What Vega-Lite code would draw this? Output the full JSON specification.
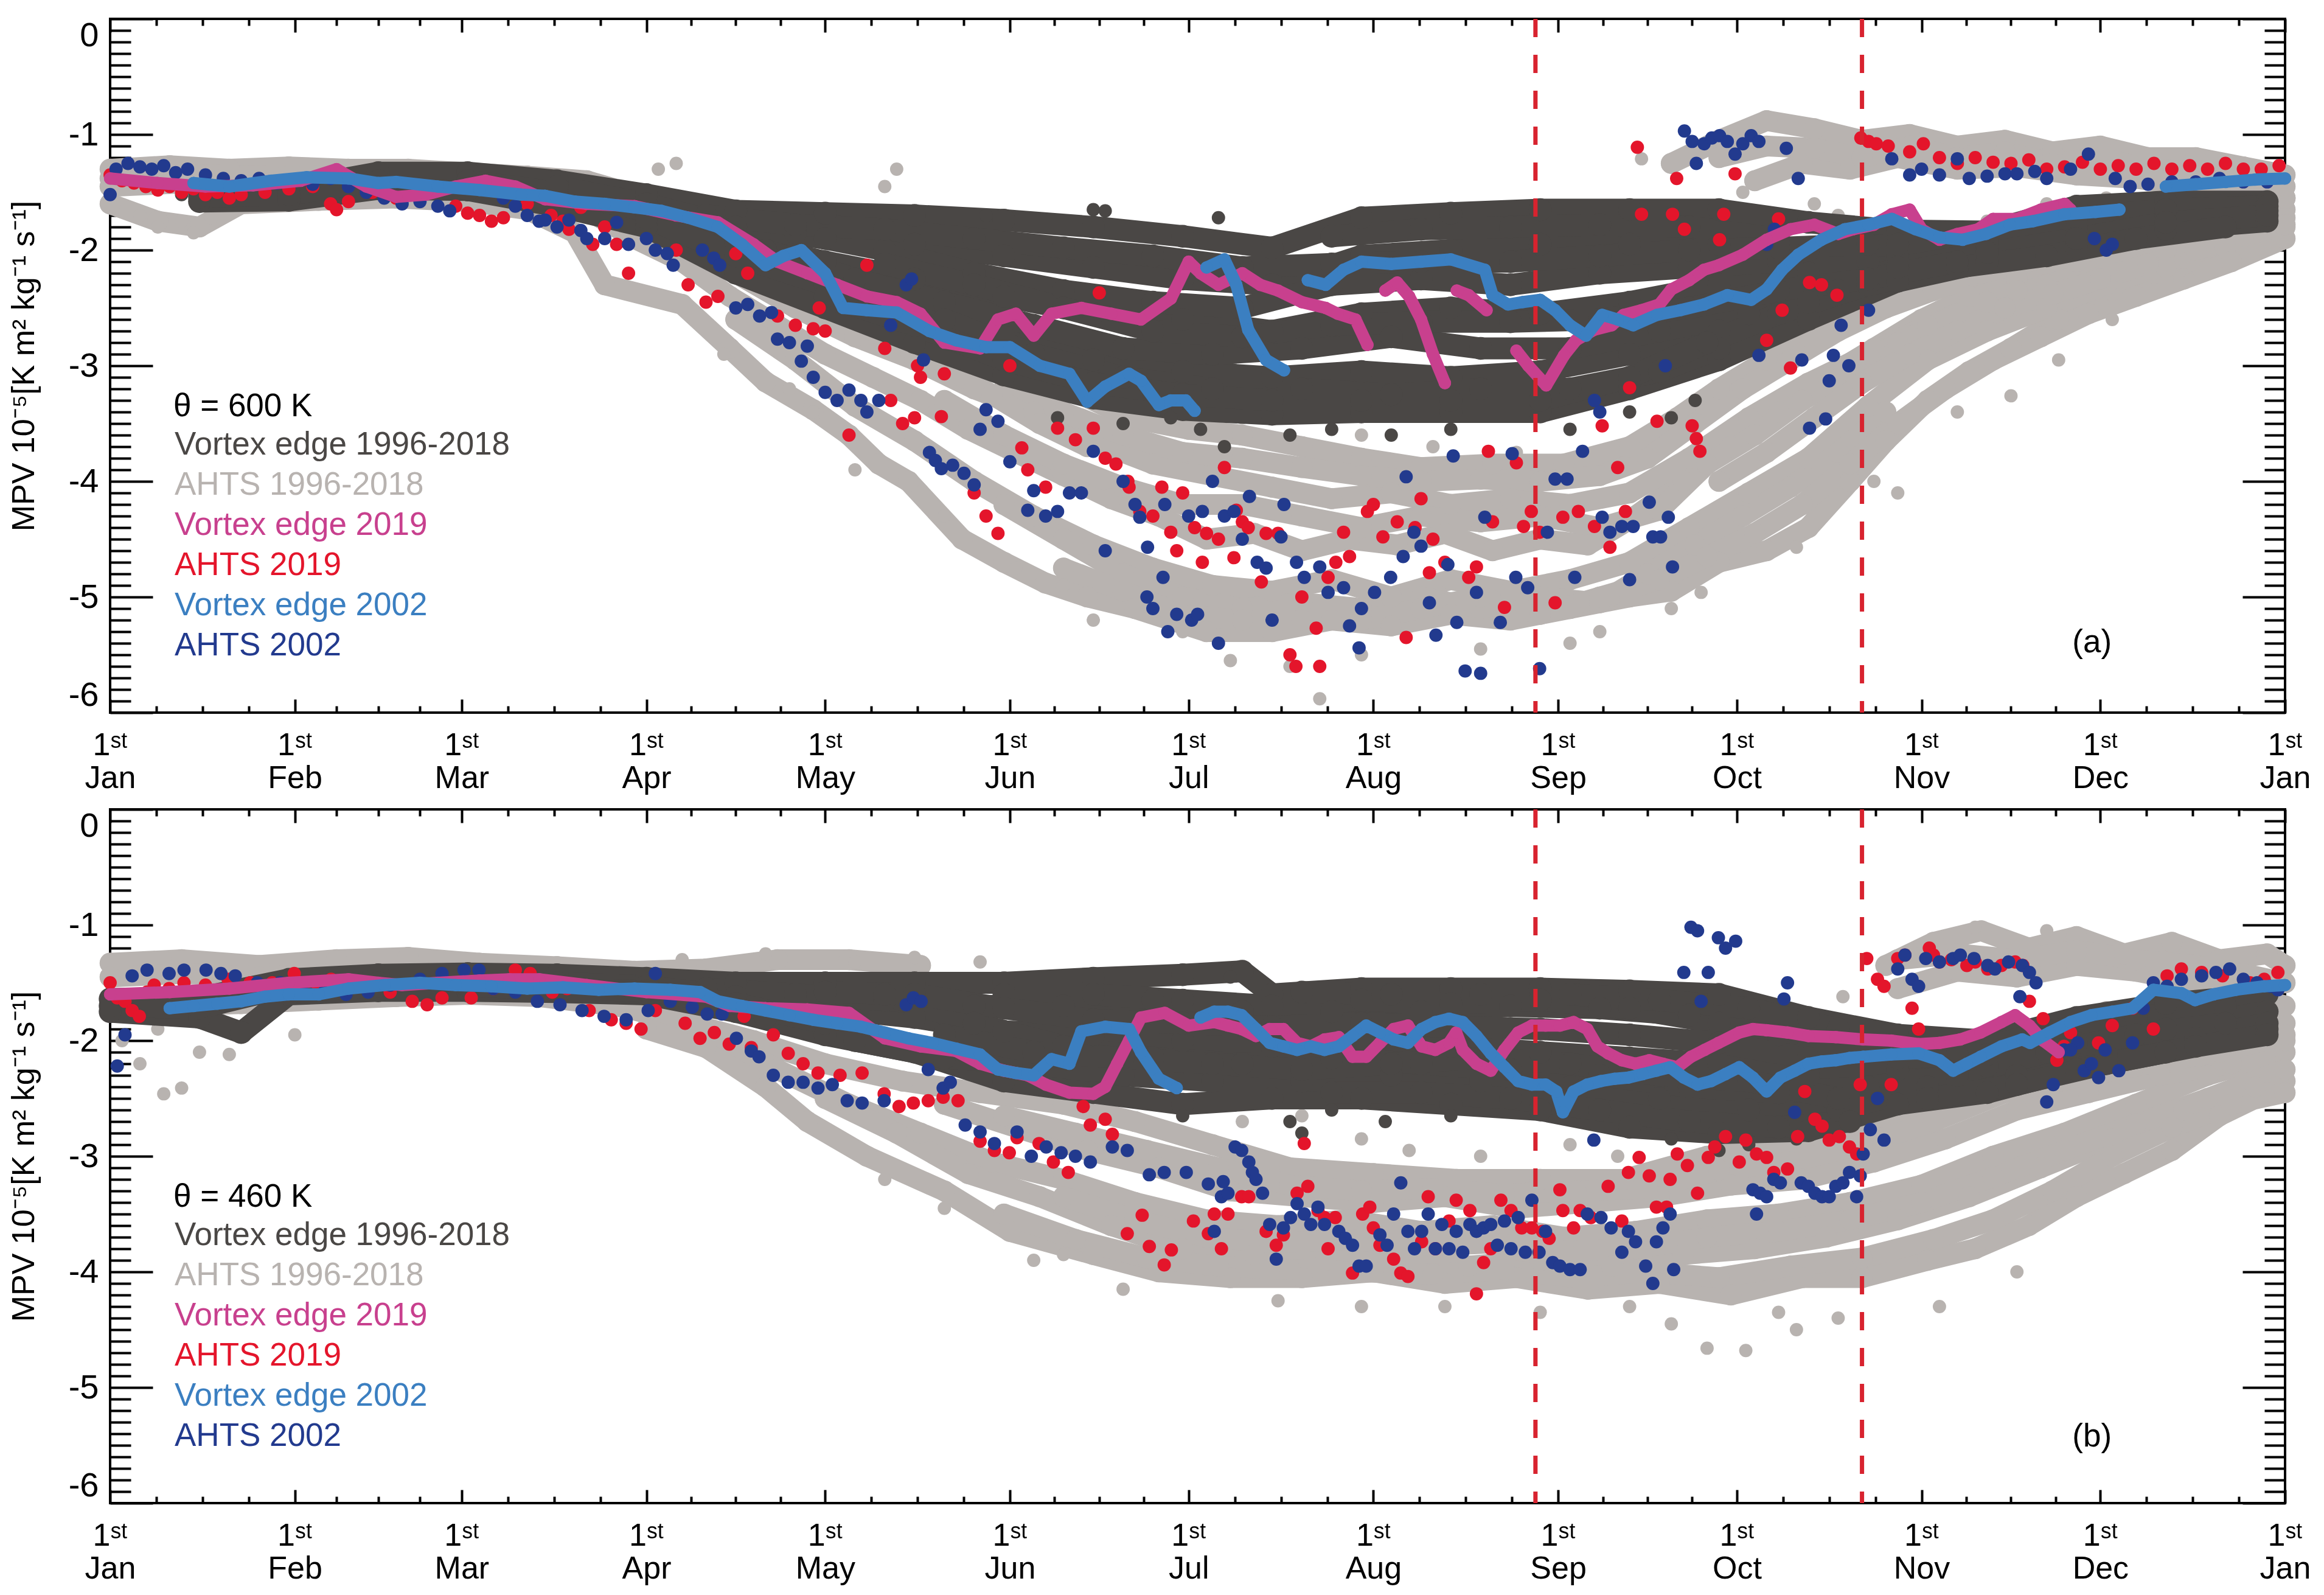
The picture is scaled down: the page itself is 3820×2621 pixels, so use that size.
{
"$schema": "https://vega.github.io/schema/vega-lite/v6.json",
"background": "white",
"padding": {"left": 11, "top": 19, "right": 20, "bottom": 5},
"config": {"view": {"stroke": "#000", "strokeWidth": 4}, "font": "Liberation Sans"},
"spacing": 159,
"bounds": "flush",
"resolve": {"scale": {"color": "independent"}},
"datasets": {
"rules": [{"d":239.2},{"d":294}],
"a_lg": [
{"t":1,"d":0,"v":-1.3},{"t":1,"d":10,"v":-1.27},{"t":1,"d":20,"v":-1.3},{"t":1,"d":30,"v":-1.28},{"t":1,"d":40,"v":-1.3},{"t":1,"d":50,"v":-1.3},{"t":1,"d":60,"v":-1.33},{"t":1,"d":70,"v":-1.36},{"t":1,"d":80,"v":-1.4},{"t":1,"d":90,"v":-1.55},{"t":1,"d":100,"v":-1.8},{"t":1,"d":112,"v":-2.2},{"t":1,"d":122,"v":-2.45},{"t":1,"d":132,"v":-2.6},{"t":1,"d":142,"v":-2.8},{"t":1,"d":151,"v":-2.97},{"t":1,"d":161,"v":-3.2},{"t":1,"d":171,"v":-3.45},{"t":1,"d":181,"v":-3.55},{"t":1,"d":190,"v":-3.6},{"t":1,"d":200,"v":-3.7},{"t":1,"d":210,"v":-3.8},{"t":1,"d":220,"v":-3.88},{"t":1,"d":232,"v":-3.85},{"t":1,"d":244,"v":-3.85},{"t":1,"d":255,"v":-3.7},{"t":1,"d":263,"v":-3.45},{"t":1,"d":270,"v":-3.2},{"t":1,"d":278,"v":-2.95},{"t":1,"d":285,"v":-2.75},{"t":1,"d":292,"v":-2.5},{"t":1,"d":298,"v":-2.3},{"t":1,"d":305,"v":-2.2},{"t":1,"d":312,"v":-2.08},{"t":1,"d":320,"v":-1.95},{"t":1,"d":330,"v":-1.85},{"t":1,"d":340,"v":-1.78},{"t":1,"d":350,"v":-1.7},{"t":1,"d":358,"v":-1.6},{"t":1,"d":365,"v":-1.55},
{"t":2,"d":0,"v":-1.6},{"t":2,"d":8,"v":-1.75},{"t":2,"d":15,"v":-1.8},{"t":2,"d":22,"v":-1.6},{"t":2,"d":35,"v":-1.57},{"t":2,"d":48,"v":-1.55},{"t":2,"d":60,"v":-1.58},{"t":2,"d":70,"v":-1.65},{"t":2,"d":78,"v":-1.85},{"t":2,"d":83,"v":-2.3},{"t":2,"d":96,"v":-2.47},{"t":2,"d":104,"v":-2.85},{"t":2,"d":110,"v":-3.14},{"t":2,"d":118,"v":-3.38},{"t":2,"d":124,"v":-3.6},{"t":2,"d":129,"v":-3.85},{"t":2,"d":134,"v":-4.0},{"t":2,"d":143,"v":-4.5},{"t":2,"d":150,"v":-4.7},{"t":2,"d":157,"v":-4.88},{"t":2,"d":164,"v":-5.0},{"t":2,"d":172,"v":-5.1},{"t":2,"d":184,"v":-5.3},{"t":2,"d":195,"v":-5.3},{"t":2,"d":205,"v":-5.2},{"t":2,"d":215,"v":-5.25},{"t":2,"d":225,"v":-5.15},{"t":2,"d":235,"v":-5.2},{"t":2,"d":245,"v":-5.1},{"t":2,"d":255,"v":-5.0},{"t":2,"d":262,"v":-4.95},{"t":2,"d":270,"v":-4.7},{"t":2,"d":278,"v":-4.6},{"t":2,"d":285,"v":-4.4},{"t":2,"d":292,"v":-4.0},{"t":2,"d":298,"v":-3.65},{"t":2,"d":305,"v":-3.3},{"t":2,"d":312,"v":-3.05},{"t":2,"d":319,"v":-2.85},{"t":2,"d":327,"v":-2.6},{"t":2,"d":336,"v":-2.35},{"t":2,"d":343,"v":-2.2},{"t":2,"d":349,"v":-2.1},{"t":2,"d":357,"v":-1.95},{"t":2,"d":365,"v":-1.8},
{"t":3,"d":0,"v":-1.45},{"t":3,"d":12,"v":-1.42},{"t":3,"d":25,"v":-1.45},{"t":3,"d":38,"v":-1.42},{"t":3,"d":50,"v":-1.43},{"t":3,"d":62,"v":-1.45},{"t":3,"d":72,"v":-1.5},{"t":3,"d":80,"v":-1.65},{"t":3,"d":88,"v":-1.9},{"t":3,"d":96,"v":-2.1},{"t":3,"d":104,"v":-2.4},{"t":3,"d":112,"v":-2.65},{"t":3,"d":120,"v":-2.9},{"t":3,"d":128,"v":-3.1},{"t":3,"d":136,"v":-3.3},{"t":3,"d":144,"v":-3.55},{"t":3,"d":152,"v":-3.75},{"t":3,"d":160,"v":-3.95},{"t":3,"d":168,"v":-4.15},{"t":3,"d":176,"v":-4.3},{"t":3,"d":184,"v":-4.5},{"t":3,"d":192,"v":-4.45},{"t":3,"d":200,"v":-4.6},{"t":3,"d":208,"v":-4.5},{"t":3,"d":216,"v":-4.55},{"t":3,"d":224,"v":-4.45},{"t":3,"d":232,"v":-4.6},{"t":3,"d":240,"v":-4.5},{"t":3,"d":248,"v":-4.55},{"t":3,"d":256,"v":-4.3},{"t":3,"d":264,"v":-4.0},{"t":3,"d":272,"v":-3.7},{"t":3,"d":280,"v":-3.4},{"t":3,"d":288,"v":-3.1},{"t":3,"d":296,"v":-2.85},{"t":3,"d":304,"v":-2.6},{"t":3,"d":312,"v":-2.4},{"t":3,"d":320,"v":-2.25},{"t":3,"d":330,"v":-2.1},{"t":3,"d":340,"v":-1.95},{"t":3,"d":350,"v":-1.85},{"t":3,"d":360,"v":-1.7},{"t":3,"d":365,"v":-1.65},
{"t":4,"d":95,"v":-1.95},{"t":4,"d":105,"v":-2.2},{"t":4,"d":115,"v":-2.5},{"t":4,"d":125,"v":-2.75},{"t":4,"d":135,"v":-2.95},{"t":4,"d":145,"v":-3.2},{"t":4,"d":155,"v":-3.4},{"t":4,"d":165,"v":-3.65},{"t":4,"d":175,"v":-3.85},{"t":4,"d":185,"v":-3.95},{"t":4,"d":195,"v":-4.05},{"t":4,"d":205,"v":-4.15},{"t":4,"d":215,"v":-4.1},{"t":4,"d":225,"v":-4.2},{"t":4,"d":235,"v":-4.15},{"t":4,"d":245,"v":-4.2},{"t":4,"d":255,"v":-4.1},{"t":4,"d":265,"v":-3.8},{"t":4,"d":275,"v":-3.45},{"t":4,"d":285,"v":-3.15},{"t":4,"d":295,"v":-2.9},{"t":4,"d":305,"v":-2.65},{"t":4,"d":315,"v":-2.45},{"t":4,"d":325,"v":-2.3},{"t":4,"d":335,"v":-2.15},{"t":4,"d":345,"v":-2.0},{"t":4,"d":355,"v":-1.88},{"t":4,"d":365,"v":-1.72},
{"t":5,"d":105,"v":-2.6},{"t":5,"d":115,"v":-2.95},{"t":5,"d":125,"v":-3.35},{"t":5,"d":135,"v":-3.65},{"t":5,"d":145,"v":-4.0},{"t":5,"d":155,"v":-4.3},{"t":5,"d":165,"v":-4.55},{"t":5,"d":175,"v":-4.75},{"t":5,"d":185,"v":-4.9},{"t":5,"d":195,"v":-4.95},{"t":5,"d":205,"v":-4.85},{"t":5,"d":215,"v":-5.0},{"t":5,"d":225,"v":-4.85},{"t":5,"d":235,"v":-4.95},{"t":5,"d":245,"v":-4.85},{"t":5,"d":255,"v":-4.7},{"t":5,"d":265,"v":-4.4},{"t":5,"d":275,"v":-4.1},{"t":5,"d":285,"v":-3.8},{"t":5,"d":295,"v":-3.35},{"t":5,"d":305,"v":-2.95},{"t":5,"d":315,"v":-2.7},{"t":5,"d":325,"v":-2.5},{"t":5,"d":335,"v":-2.3},{"t":5,"d":345,"v":-2.15},{"t":5,"d":355,"v":-1.98},
{"t":6,"d":140,"v":-3.3},{"t":6,"d":150,"v":-3.6},{"t":6,"d":160,"v":-3.85},{"t":6,"d":170,"v":-4.05},{"t":6,"d":180,"v":-4.2},{"t":6,"d":190,"v":-4.2},{"t":6,"d":200,"v":-4.3},{"t":6,"d":210,"v":-4.4},{"t":6,"d":220,"v":-4.3},{"t":6,"d":230,"v":-4.35},{"t":6,"d":240,"v":-4.3},{"t":6,"d":250,"v":-4.4},{"t":6,"d":260,"v":-4.25},{"t":6,"d":268,"v":-3.85},{"t":6,"d":276,"v":-3.6},{"t":6,"d":284,"v":-3.3},{"t":6,"d":292,"v":-3.05},{"t":6,"d":300,"v":-2.8},{"t":6,"d":310,"v":-2.55},{"t":6,"d":320,"v":-2.35},
{"t":7,"d":262,"v":-1.25},{"t":7,"d":270,"v":-1.05},{"t":7,"d":278,"v":-0.88},{"t":7,"d":286,"v":-0.95},{"t":7,"d":294,"v":-1.05},{"t":7,"d":302,"v":-1.0},{"t":7,"d":310,"v":-1.1},{"t":7,"d":318,"v":-1.05},{"t":7,"d":326,"v":-1.15},{"t":7,"d":334,"v":-1.1},{"t":7,"d":342,"v":-1.2},{"t":7,"d":350,"v":-1.2},{"t":7,"d":358,"v":-1.28},{"t":7,"d":365,"v":-1.35},
{"t":8,"d":276,"v":-1.4},{"t":8,"d":284,"v":-1.25},{"t":8,"d":292,"v":-1.3},{"t":8,"d":300,"v":-1.2},{"t":8,"d":310,"v":-1.3},{"t":8,"d":320,"v":-1.28},{"t":8,"d":330,"v":-1.35},{"t":8,"d":340,"v":-1.38},{"t":8,"d":350,"v":-1.45},{"t":8,"d":358,"v":-1.5},{"t":8,"d":365,"v":-1.55},
{"t":9,"d":150,"v":-4.2},{"t":9,"d":160,"v":-4.5},{"t":9,"d":170,"v":-4.8},{"t":9,"d":180,"v":-5.0},{"t":9,"d":190,"v":-5.1},{"t":9,"d":200,"v":-5.05},{"t":9,"d":210,"v":-5.1},{"t":9,"d":220,"v":-5.0},{"t":9,"d":230,"v":-5.1},{"t":9,"d":240,"v":-5.0},{"t":9,"d":250,"v":-5.05},{"t":9,"d":258,"v":-4.8},{"t":9,"d":266,"v":-4.55},{"t":9,"d":274,"v":-4.3},{"t":9,"d":282,"v":-4.05},{"t":9,"d":290,"v":-3.75},{"t":9,"d":298,"v":-3.4},
{"t":10,"d":150,"v":-3.2},{"t":10,"d":160,"v":-3.4},{"t":10,"d":170,"v":-3.6},{"t":10,"d":180,"v":-3.75},{"t":10,"d":190,"v":-3.8},{"t":10,"d":200,"v":-3.88},{"t":10,"d":210,"v":-3.95},{"t":10,"d":220,"v":-4.0},{"t":10,"d":230,"v":-3.98},{"t":10,"d":240,"v":-4.0},{"t":10,"d":250,"v":-3.95},{"t":10,"d":258,"v":-3.8},{"t":10,"d":266,"v":-3.5},{"t":10,"d":274,"v":-3.2},{"t":10,"d":282,"v":-2.95},{"t":10,"d":290,"v":-2.7},{"t":10,"d":298,"v":-2.5},{"t":10,"d":306,"v":-2.35},{"t":10,"d":314,"v":-2.2},{"t":10,"d":322,"v":-2.1},{"t":10,"d":332,"v":-1.98},{"t":10,"d":342,"v":-1.88},{"t":10,"d":352,"v":-1.78},{"t":10,"d":362,"v":-1.68},
{"t":11,"d":160,"v":-4.75},{"t":11,"d":170,"v":-4.95},{"t":11,"d":180,"v":-5.15},{"t":11,"d":190,"v":-5.2},{"t":11,"d":200,"v":-5.2},{"t":11,"d":210,"v":-5.2},{"t":11,"d":220,"v":-5.1},{"t":11,"d":230,"v":-5.0},{"t":11,"d":240,"v":-5.15},{"t":11,"d":250,"v":-5.0},{"t":11,"d":260,"v":-4.85},{"t":11,"d":268,"v":-4.65},{"t":11,"d":276,"v":-4.45},{"t":11,"d":284,"v":-4.2},{"t":11,"d":292,"v":-3.85},{"t":11,"d":300,"v":-3.5},{"t":11,"d":308,"v":-3.2},{"t":11,"d":316,"v":-2.95},{"t":11,"d":324,"v":-2.75},{"t":11,"d":332,"v":-2.55},{"t":11,"d":340,"v":-2.4},{"t":11,"d":348,"v":-2.25},{"t":11,"d":356,"v":-2.1},{"t":11,"d":365,"v":-1.9},
{"t":12,"d":270,"v":-1.2},{"t":12,"d":278,"v":-1.1},{"t":12,"d":286,"v":-1.12},{"t":12,"d":294,"v":-1.2},{"t":12,"d":302,"v":-1.1},{"t":12,"d":310,"v":-1.2},{"t":12,"d":318,"v":-1.15},{"t":12,"d":326,"v":-1.25},{"t":12,"d":334,"v":-1.2},{"t":12,"d":342,"v":-1.3},{"t":12,"d":350,"v":-1.32},{"t":12,"d":358,"v":-1.38},{"t":12,"d":365,"v":-1.45},
{"t":13,"d":270,"v":-4.0},{"t":13,"d":278,"v":-3.75},{"t":13,"d":286,"v":-3.45},{"t":13,"d":294,"v":-3.15},{"t":13,"d":302,"v":-2.9},{"t":13,"d":310,"v":-2.7},{"t":13,"d":318,"v":-2.5},{"t":13,"d":326,"v":-2.38},{"t":13,"d":334,"v":-2.25},{"t":13,"d":342,"v":-2.12},{"t":13,"d":350,"v":-2.0},{"t":13,"d":358,"v":-1.88},{"t":13,"d":365,"v":-1.78},
{"t":14,"d":0,"v":-1.38},{"t":14,"d":15,"v":-1.35},{"t":14,"d":30,"v":-1.36},{"t":14,"d":45,"v":-1.35},{"t":14,"d":60,"v":-1.38},{"t":14,"d":75,"v":-1.42},{"t":14,"d":85,"v":-1.55},{"t":14,"d":92,"v":-1.75},{"t":14,"d":100,"v":-1.95},{"t":14,"d":108,"v":-2.1},{"t":14,"d":116,"v":-2.35},{"t":14,"d":124,"v":-2.6},{"t":14,"d":132,"v":-2.8},{"t":14,"d":140,"v":-3.0},{"t":14,"d":148,"v":-3.25},{"t":14,"d":156,"v":-3.5},{"t":14,"d":164,"v":-3.7}
],
"a_lgs": [
{"d":5,"v":-1.7},{"d":8,"v":-1.8},{"d":12,"v":-1.75},{"d":14,"v":-1.85},{"d":17,"v":-1.72},{"d":257,"v":-1.21},{"d":274,"v":-1.5},{"d":278,"v":-1.8},{"d":282,"v":-2.0},{"d":286,"v":-1.6},{"d":290,"v":-1.7},{"d":203,"v":-5.88},{"d":198,"v":-5.6},{"d":188,"v":-5.55},{"d":230,"v":-5.45},{"d":210,"v":-5.5},{"d":180,"v":-5.3},{"d":262,"v":-5.1},{"d":267,"v":-4.96},{"d":283,"v":-4.57},{"d":296,"v":-4.0},{"d":300,"v":-4.1},{"d":140,"v":-4.3},{"d":118,"v":-3.4},{"d":114,"v":-3.2},{"d":125,"v":-3.9},{"d":103,"v":-2.9},{"d":92,"v":-1.3},{"d":95,"v":-1.25},{"d":130,"v":-1.45},{"d":132,"v":-1.3},{"d":305,"v":-2.05},{"d":315,"v":-1.75},{"d":325,"v":-1.6},{"d":335,"v":-1.55},{"d":345,"v":-1.5},{"d":355,"v":-1.45},{"d":319,"v":-3.26},{"d":327,"v":-2.95},{"d":165,"v":-5.2},{"d":245,"v":-5.4},{"d":250,"v":-5.3},{"d":160,"v":-4.9},{"d":152,"v":-4.75},{"d":222,"v":-3.7},{"d":236,"v":-3.75},{"d":190,"v":-3.45},{"d":210,"v":-3.6},{"d":180,"v":-3.35},{"d":170,"v":-3.3},{"d":336,"v":-2.6},{"d":349,"v":-2.26},{"d":310,"v":-3.4}
],
"a_dg": [
{"t":1,"d":15,"v":-1.5},{"t":1,"d":30,"v":-1.47},{"t":1,"d":45,"v":-1.33},{"t":1,"d":60,"v":-1.33},{"t":1,"d":75,"v":-1.4},{"t":1,"d":90,"v":-1.52},{"t":1,"d":105,"v":-1.66},{"t":1,"d":120,"v":-1.68},{"t":1,"d":135,"v":-1.7},{"t":1,"d":150,"v":-1.74},{"t":1,"d":165,"v":-1.8},{"t":1,"d":180,"v":-1.88},{"t":1,"d":195,"v":-1.98},{"t":1,"d":210,"v":-1.72},{"t":1,"d":225,"v":-1.68},{"t":1,"d":240,"v":-1.65},{"t":1,"d":255,"v":-1.65},{"t":1,"d":270,"v":-1.65},{"t":1,"d":285,"v":-1.76},{"t":1,"d":300,"v":-1.83},{"t":1,"d":315,"v":-1.84},{"t":1,"d":330,"v":-1.62},{"t":1,"d":345,"v":-1.58},{"t":1,"d":362,"v":-1.58},
{"t":2,"d":15,"v":-1.58},{"t":2,"d":30,"v":-1.57},{"t":2,"d":45,"v":-1.47},{"t":2,"d":60,"v":-1.48},{"t":2,"d":75,"v":-1.62},{"t":2,"d":90,"v":-1.8},{"t":2,"d":105,"v":-2.2},{"t":2,"d":120,"v":-2.5},{"t":2,"d":135,"v":-2.8},{"t":2,"d":150,"v":-3.08},{"t":2,"d":165,"v":-3.28},{"t":2,"d":180,"v":-3.38},{"t":2,"d":195,"v":-3.42},{"t":2,"d":210,"v":-3.4},{"t":2,"d":225,"v":-3.4},{"t":2,"d":240,"v":-3.4},{"t":2,"d":255,"v":-3.2},{"t":2,"d":270,"v":-2.95},{"t":2,"d":285,"v":-2.6},{"t":2,"d":300,"v":-2.27},{"t":2,"d":315,"v":-2.1},{"t":2,"d":330,"v":-1.98},{"t":2,"d":345,"v":-1.82},{"t":2,"d":362,"v":-1.75},
{"t":3,"d":15,"v":-1.54},{"t":3,"d":30,"v":-1.52},{"t":3,"d":45,"v":-1.4},{"t":3,"d":60,"v":-1.4},{"t":3,"d":75,"v":-1.5},{"t":3,"d":90,"v":-1.66},{"t":3,"d":105,"v":-1.93},{"t":3,"d":120,"v":-2.1},{"t":3,"d":135,"v":-2.25},{"t":3,"d":150,"v":-2.4},{"t":3,"d":165,"v":-2.55},{"t":3,"d":180,"v":-2.6},{"t":3,"d":195,"v":-2.7},{"t":3,"d":210,"v":-2.55},{"t":3,"d":225,"v":-2.5},{"t":3,"d":240,"v":-2.55},{"t":3,"d":255,"v":-2.45},{"t":3,"d":270,"v":-2.3},{"t":3,"d":285,"v":-2.2},{"t":3,"d":300,"v":-2.05},{"t":3,"d":315,"v":-1.97},{"t":3,"d":330,"v":-1.8},{"t":3,"d":345,"v":-1.7},{"t":3,"d":362,"v":-1.66},
{"t":4,"d":75,"v":-1.45},{"t":4,"d":90,"v":-1.6},{"t":4,"d":105,"v":-1.8},{"t":4,"d":120,"v":-1.9},{"t":4,"d":135,"v":-1.95},{"t":4,"d":150,"v":-2.05},{"t":4,"d":165,"v":-2.15},{"t":4,"d":180,"v":-2.25},{"t":4,"d":195,"v":-2.3},{"t":4,"d":210,"v":-2.05},{"t":4,"d":225,"v":-2.0},{"t":4,"d":240,"v":-1.95},{"t":4,"d":255,"v":-1.95},{"t":4,"d":270,"v":-1.95},{"t":4,"d":285,"v":-2.0},{"t":4,"d":300,"v":-1.95},{"t":4,"d":315,"v":-1.92},{"t":4,"d":330,"v":-1.72},{"t":4,"d":345,"v":-1.65},{"t":4,"d":362,"v":-1.62},
{"t":5,"d":90,"v":-1.72},{"t":5,"d":105,"v":-2.05},{"t":5,"d":120,"v":-2.3},{"t":5,"d":135,"v":-2.55},{"t":5,"d":150,"v":-2.75},{"t":5,"d":165,"v":-2.95},{"t":5,"d":180,"v":-3.05},{"t":5,"d":195,"v":-3.1},{"t":5,"d":210,"v":-3.05},{"t":5,"d":225,"v":-3.1},{"t":5,"d":240,"v":-3.05},{"t":5,"d":255,"v":-2.9},{"t":5,"d":270,"v":-2.7},{"t":5,"d":285,"v":-2.45},{"t":5,"d":300,"v":-2.15},{"t":5,"d":315,"v":-2.02},{"t":5,"d":330,"v":-1.9},{"t":5,"d":345,"v":-1.76},{"t":5,"d":362,"v":-1.7},
{"t":6,"d":110,"v":-2.0},{"t":6,"d":125,"v":-2.25},{"t":6,"d":140,"v":-2.45},{"t":6,"d":155,"v":-2.65},{"t":6,"d":170,"v":-2.85},{"t":6,"d":185,"v":-2.9},{"t":6,"d":200,"v":-2.85},{"t":6,"d":215,"v":-2.75},{"t":6,"d":230,"v":-2.85},{"t":6,"d":245,"v":-2.85},{"t":6,"d":260,"v":-2.7},{"t":6,"d":275,"v":-2.55},{"t":6,"d":290,"v":-2.35},
{"t":7,"d":115,"v":-1.85},{"t":7,"d":130,"v":-2.0},{"t":7,"d":145,"v":-2.2},{"t":7,"d":160,"v":-2.35},{"t":7,"d":175,"v":-2.45},{"t":7,"d":190,"v":-2.5},{"t":7,"d":205,"v":-2.3},{"t":7,"d":220,"v":-2.25},{"t":7,"d":235,"v":-2.3},{"t":7,"d":250,"v":-2.2},{"t":7,"d":265,"v":-2.15},{"t":7,"d":280,"v":-2.1},{"t":7,"d":295,"v":-2.1},
{"t":8,"d":140,"v":-2.6},{"t":8,"d":155,"v":-2.9},{"t":8,"d":170,"v":-3.1},{"t":8,"d":185,"v":-3.2},{"t":8,"d":200,"v":-3.2},{"t":8,"d":215,"v":-3.25},{"t":8,"d":230,"v":-3.2},{"t":8,"d":245,"v":-3.2},{"t":8,"d":260,"v":-3.05},{"t":8,"d":270,"v":-2.85},
{"t":9,"d":205,"v":-1.88},{"t":9,"d":220,"v":-1.82},{"t":9,"d":235,"v":-1.8},{"t":9,"d":250,"v":-1.78},{"t":9,"d":265,"v":-1.8},{"t":9,"d":280,"v":-1.9},
{"t":10,"d":100,"v":-1.7},{"t":10,"d":115,"v":-1.78},{"t":10,"d":130,"v":-1.82},{"t":10,"d":145,"v":-1.9},{"t":10,"d":160,"v":-1.98},{"t":10,"d":175,"v":-2.05},{"t":10,"d":190,"v":-2.15},{"t":10,"d":205,"v":-2.12},{"t":10,"d":220,"v":-2.1},{"t":10,"d":235,"v":-2.1},{"t":10,"d":250,"v":-2.05},{"t":10,"d":265,"v":-2.0},{"t":10,"d":280,"v":-1.98},{"t":10,"d":295,"v":-1.95},
{"t":11,"d":120,"v":-2.4},{"t":11,"d":135,"v":-2.65},{"t":11,"d":150,"v":-2.95},{"t":11,"d":165,"v":-3.15},{"t":11,"d":180,"v":-3.25},{"t":11,"d":195,"v":-3.3},{"t":11,"d":210,"v":-3.3},{"t":11,"d":225,"v":-3.3},{"t":11,"d":240,"v":-3.3},{"t":11,"d":255,"v":-3.1},{"t":11,"d":268,"v":-2.8},{"t":11,"d":280,"v":-2.55},{"t":11,"d":295,"v":-2.3},{"t":11,"d":310,"v":-2.15},{"t":11,"d":325,"v":-2.05},{"t":11,"d":340,"v":-1.9},{"t":11,"d":355,"v":-1.8},
{"t":12,"d":130,"v":-2.12},{"t":12,"d":145,"v":-2.3},{"t":12,"d":160,"v":-2.5},{"t":12,"d":175,"v":-2.7},{"t":12,"d":190,"v":-2.75},{"t":12,"d":205,"v":-2.65},{"t":12,"d":220,"v":-2.62},{"t":12,"d":235,"v":-2.62},{"t":12,"d":250,"v":-2.6},{"t":12,"d":265,"v":-2.5},{"t":12,"d":280,"v":-2.35},{"t":12,"d":295,"v":-2.25},{"t":12,"d":310,"v":-2.1}
],
"a_dgs": [
{"d":183,"v":-3.55},{"d":187,"v":-3.7},{"d":178,"v":-3.45},{"d":205,"v":-3.55},{"d":198,"v":-3.6},{"d":262,"v":-3.45},{"d":266,"v":-3.3},{"d":159,"v":-3.45},{"d":170,"v":-3.5},{"d":215,"v":-3.6},{"d":225,"v":-3.55},{"d":147,"v":-1.7},{"d":167,"v":-1.66},{"d":186,"v":-1.72},{"d":12,"v":-1.52},{"d":165,"v":-1.65},{"d":245,"v":-3.55},{"d":255,"v":-3.4}
],
"a_red": [
{"d":0,"v":-1.35},{"d":2,"v":-1.4},{"d":4,"v":-1.42},{"d":6,"v":-1.45},{"d":8,"v":-1.48},{"d":10,"v":-1.45},{"d":12,"v":-1.5},{"d":14,"v":-1.47},{"d":16,"v":-1.52},{"d":18,"v":-1.5},{"d":20,"v":-1.55},{"d":22,"v":-1.52},{"d":26,"v":-1.5},{"d":30,"v":-1.47},{"d":34,"v":-1.45},{"d":37,"v":-1.6},{"d":38,"v":-1.65},{"d":40,"v":-1.58},{"d":44,"v":-1.5},{"d":48,"v":-1.55},{"d":52,"v":-1.5},{"d":58,"v":-1.62},{"d":60,"v":-1.68},{"d":62,"v":-1.7},{"d":64,"v":-1.75},{"d":66,"v":-1.72},{"d":70,"v":-1.6},{"d":74,"v":-1.7},{"d":76,"v":-1.75},{"d":77,"v":-1.82},{"d":79,"v":-1.63},{"d":81,"v":-1.95},{"d":83,"v":-1.8},{"d":85,"v":-1.95},{"d":87,"v":-2.2},{"d":95,"v":-2.0},{"d":97,"v":-2.3},{"d":100,"v":-2.45},{"d":102,"v":-2.4},{"d":105,"v":-2.03},{"d":107,"v":-2.2},{"d":112,"v":-2.57},{"d":115,"v":-2.65},{"d":118,"v":-2.68},{"d":119,"v":-2.5},{"d":120,"v":-2.7},{"d":124,"v":-3.6},{"d":127,"v":-2.13},{"d":130,"v":-2.85},{"d":131,"v":-3.3},{"d":133,"v":-3.5},{"d":135,"v":-3.45},{"d":135.5,"v":-3.0},{"d":136,"v":-3.1},{"d":139.5,"v":-3.44},{"d":140,"v":-3.07},{"d":145,"v":-4.1},{"d":147,"v":-4.3},{"d":149,"v":-4.45},{"d":151,"v":-3.0},{"d":153,"v":-3.71},{"d":154,"v":-3.9},{"d":157,"v":-4.05},{"d":159,"v":-3.54},{"d":162,"v":-3.64},{"d":165,"v":-3.54},{"d":166,"v":-2.37},{"d":167,"v":-3.8},{"d":168.8,"v":-3.85},{"d":170.8,"v":-4.0},{"d":171,"v":-4.05},{"d":172.8,"v":-4.26},{"d":175,"v":-4.3},{"d":176.5,"v":-4.05},{"d":178,"v":-4.44},{"d":179,"v":-4.6},{"d":180,"v":-4.1},{"d":182,"v":-4.4},{"d":183.3,"v":-4.7},{"d":184,"v":-4.45},{"d":186,"v":-4.5},{"d":187,"v":-3.88},{"d":188.6,"v":-4.66},{"d":189,"v":-4.25},{"d":190,"v":-4.35},{"d":191,"v":-4.4},{"d":193.2,"v":-4.87},{"d":194,"v":-4.45},{"d":196,"v":-4.45},{"d":198,"v":-5.5},{"d":199,"v":-5.6},{"d":200,"v":-5.0},{"d":202.4,"v":-5.27},{"d":203,"v":-5.6},{"d":204.4,"v":-4.83},{"d":205.7,"v":-4.7},{"d":207,"v":-4.44},{"d":208,"v":-4.65},{"d":211,"v":-4.26},{"d":212,"v":-4.2},{"d":213.6,"v":-4.48},{"d":216,"v":-4.35},{"d":217.5,"v":-5.35},{"d":219,"v":-4.4},{"d":220,"v":-4.15},{"d":221.4,"v":-4.79},{"d":222,"v":-4.5},{"d":224,"v":-4.7},{"d":228,"v":-4.83},{"d":229.3,"v":-4.74},{"d":231.3,"v":-3.74},{"d":232,"v":-4.35},{"d":234,"v":-5.09},{"d":236,"v":-3.84},{"d":237.2,"v":-4.39},{"d":238.5,"v":-4.26},{"d":239.9,"v":-4.44},{"d":242.5,"v":-5.05},{"d":243.8,"v":-4.31},{"d":246.4,"v":-4.26},{"d":249.1,"v":-4.39},{"d":250.4,"v":-3.52},{"d":251.7,"v":-4.57},{"d":253,"v":-3.88},{"d":254.3,"v":-4.26},{"d":255,"v":-3.19},{"d":256.3,"v":-1.11},{"d":257,"v":-1.69},{"d":259.6,"v":-3.48},{"d":262.2,"v":-1.69},{"d":262.9,"v":-1.38},{"d":264.2,"v":-1.82},{"d":265.5,"v":-3.52},{"d":266.2,"v":-3.63},{"d":266.8,"v":-3.74},{"d":270.1,"v":-1.91},{"d":270.8,"v":-1.69},{"d":272.7,"v":-1.34},{"d":278,"v":-2.78},{"d":280,"v":-1.73},{"d":280.6,"v":-2.52},{"d":282,"v":-3.02},{"d":285.2,"v":-2.28},{"d":287.2,"v":-2.3},{"d":289.8,"v":-2.39},{"d":293.8,"v":-1.03},{"d":295.1,"v":-1.06},{"d":296.4,"v":-1.08},{"d":298.4,"v":-1.1},{"d":302,"v":-1.15},{"d":304.3,"v":-1.08},{"d":307,"v":-1.2},{"d":310,"v":-1.25},{"d":313,"v":-1.2},{"d":316,"v":-1.24},{"d":319,"v":-1.25},{"d":322,"v":-1.22},{"d":325,"v":-1.3},{"d":328,"v":-1.28},{"d":331,"v":-1.24},{"d":334,"v":-1.3},{"d":337,"v":-1.27},{"d":340,"v":-1.3},{"d":343,"v":-1.25},{"d":346,"v":-1.3},{"d":349,"v":-1.27},{"d":352,"v":-1.3},{"d":355,"v":-1.25},{"d":358,"v":-1.3},{"d":361,"v":-1.3},{"d":364,"v":-1.27}
],
"a_dbl": [
{"d":0,"v":-1.52},{"d":1,"v":-1.3},{"d":3,"v":-1.25},{"d":5,"v":-1.28},{"d":7,"v":-1.3},{"d":9,"v":-1.27},{"d":11,"v":-1.33},{"d":13,"v":-1.3},{"d":16,"v":-1.35},{"d":19,"v":-1.38},{"d":22,"v":-1.4},{"d":25,"v":-1.38},{"d":28,"v":-1.42},{"d":31,"v":-1.4},{"d":34,"v":-1.43},{"d":37,"v":-1.38},{"d":40,"v":-1.45},{"d":43,"v":-1.5},{"d":46,"v":-1.55},{"d":49,"v":-1.6},{"d":52,"v":-1.58},{"d":55,"v":-1.62},{"d":57,"v":-1.66},{"d":66,"v":-1.55},{"d":68,"v":-1.62},{"d":70,"v":-1.7},{"d":72,"v":-1.75},{"d":73,"v":-1.74},{"d":75,"v":-1.8},{"d":77,"v":-1.74},{"d":79,"v":-1.83},{"d":80,"v":-1.9},{"d":83,"v":-1.9},{"d":85,"v":-1.76},{"d":87,"v":-1.95},{"d":90,"v":-1.9},{"d":91.5,"v":-2.0},{"d":93.5,"v":-2.03},{"d":94.5,"v":-2.13},{"d":99.4,"v":-2.0},{"d":101.3,"v":-2.07},{"d":102.3,"v":-2.13},{"d":105,"v":-2.5},{"d":107,"v":-2.47},{"d":109,"v":-2.57},{"d":111,"v":-2.54},{"d":112,"v":-2.77},{"d":114,"v":-2.8},{"d":116,"v":-2.96},{"d":117,"v":-2.83},{"d":118,"v":-3.1},{"d":120,"v":-3.23},{"d":122,"v":-3.3},{"d":124,"v":-3.21},{"d":126,"v":-3.3},{"d":127,"v":-3.4},{"d":129,"v":-3.3},{"d":131,"v":-2.65},{"d":133.6,"v":-2.3},{"d":134.5,"v":-2.25},{"d":136.5,"v":-2.95},{"d":137.5,"v":-3.75},{"d":138.5,"v":-3.82},{"d":139.5,"v":-3.89},{"d":141.4,"v":-3.86},{"d":143.3,"v":-3.93},{"d":145,"v":-4.03},{"d":146,"v":-3.55},{"d":147,"v":-3.38},{"d":149,"v":-3.48},{"d":151,"v":-3.83},{"d":154,"v":-4.25},{"d":155,"v":-4.08},{"d":157,"v":-4.3},{"d":159,"v":-4.26},{"d":161,"v":-4.1},{"d":163,"v":-4.1},{"d":165,"v":-3.74},{"d":167,"v":-4.6},{"d":170,"v":-4.0},{"d":172,"v":-4.2},{"d":172.8,"v":-4.31},{"d":174,"v":-5.0},{"d":174.1,"v":-4.57},{"d":175,"v":-5.1},{"d":176.7,"v":-4.83},{"d":177,"v":-4.2},{"d":177.5,"v":-5.3},{"d":179,"v":-5.15},{"d":181,"v":-4.3},{"d":181.5,"v":-5.2},{"d":182.5,"v":-5.15},{"d":183.3,"v":-4.26},{"d":185,"v":-4.0},{"d":186,"v":-5.4},{"d":187,"v":-4.3},{"d":188.6,"v":-4.26},{"d":190,"v":-4.5},{"d":191.2,"v":-4.13},{"d":192.5,"v":-4.7},{"d":194,"v":-4.75},{"d":195,"v":-5.2},{"d":196.5,"v":-4.48},{"d":197,"v":-4.2},{"d":199.1,"v":-4.7},{"d":200.4,"v":-4.83},{"d":203,"v":-4.74},{"d":204.4,"v":-4.96},{"d":207,"v":-4.92},{"d":208,"v":-5.25},{"d":209.6,"v":-5.44},{"d":210,"v":-5.1},{"d":212.2,"v":-4.96},{"d":214.9,"v":-4.83},{"d":217,"v":-4.65},{"d":217.5,"v":-3.96},{"d":218.8,"v":-4.44},{"d":220,"v":-4.56},{"d":221.4,"v":-5.05},{"d":222.5,"v":-5.33},{"d":224.5,"v":-4.72},{"d":225.4,"v":-3.78},{"d":226,"v":-5.22},{"d":227.4,"v":-5.64},{"d":229.3,"v":-4.96},{"d":230,"v":-5.66},{"d":230.7,"v":-4.31},{"d":233.3,"v":-5.22},{"d":235.3,"v":-3.76},{"d":235.9,"v":-4.83},{"d":237.9,"v":-4.92},{"d":239.9,"v":-5.62},{"d":241.2,"v":-4.44},{"d":242.5,"v":-3.98},{"d":244.5,"v":-3.98},{"d":245.8,"v":-4.83},{"d":247.1,"v":-3.74},{"d":249.1,"v":-3.3},{"d":250,"v":-3.4},{"d":250.4,"v":-4.31},{"d":251.7,"v":-4.44},{"d":253.7,"v":-4.39},{"d":255,"v":-4.85},{"d":255.6,"v":-4.39},{"d":258.3,"v":-4.18},{"d":258.9,"v":-4.48},{"d":260.2,"v":-4.48},{"d":261,"v":-3.0},{"d":261.5,"v":-4.31},{"d":262.2,"v":-4.74},{"d":264.2,"v":-0.97},{"d":265.5,"v":-1.06},{"d":266.2,"v":-1.25},{"d":267.5,"v":-1.08},{"d":268.8,"v":-1.03},{"d":270.1,"v":-1.01},{"d":271.4,"v":-1.06},{"d":272.7,"v":-1.17},{"d":274,"v":-1.08},{"d":275.4,"v":-1.01},{"d":276.7,"v":-1.06},{"d":276.7,"v":-2.91},{"d":278,"v":-1.95},{"d":279.3,"v":-1.82},{"d":281.3,"v":-1.12},{"d":283.3,"v":-1.38},{"d":283.9,"v":-2.95},{"d":285.2,"v":-3.54},{"d":287.9,"v":-3.46},{"d":288.5,"v":-3.13},{"d":289.2,"v":-2.91},{"d":290.5,"v":-2.65},{"d":291.8,"v":-3.0},{"d":295.1,"v":-2.52},{"d":299,"v":-1.21},{"d":302,"v":-1.35},{"d":304,"v":-1.3},{"d":307,"v":-1.35},{"d":310,"v":-1.21},{"d":312,"v":-1.38},{"d":315,"v":-1.36},{"d":318,"v":-1.34},{"d":320,"v":-1.34},{"d":323,"v":-1.32},{"d":325,"v":-1.38},{"d":329,"v":-1.3},{"d":332,"v":-1.17},{"d":333,"v":-1.9},{"d":335,"v":-2.0},{"d":336,"v":-1.95},{"d":336.5,"v":-1.38},{"d":339,"v":-1.45},{"d":342,"v":-1.43},{"d":346,"v":-1.41},{"d":350,"v":-1.41},{"d":354,"v":-1.38},{"d":358,"v":-1.41},{"d":362,"v":-1.41}
],
"a_mag": [
{"g":1,"d":0,"v":-1.38},{"g":1,"d":8,"v":-1.42},{"g":1,"d":16,"v":-1.45},{"g":1,"d":24,"v":-1.44},{"g":1,"d":32,"v":-1.4},{"g":1,"d":38,"v":-1.3},{"g":1,"d":43,"v":-1.45},{"g":1,"d":48,"v":-1.54},{"g":1,"d":53,"v":-1.52},{"g":1,"d":58,"v":-1.45},{"g":1,"d":63,"v":-1.4},{"g":1,"d":68,"v":-1.45},{"g":1,"d":73,"v":-1.56},{"g":1,"d":80,"v":-1.6},{"g":1,"d":88,"v":-1.62},{"g":1,"d":95,"v":-1.7},{"g":1,"d":102,"v":-1.76},{"g":1,"d":108,"v":-1.95},{"g":1,"d":112,"v":-2.1},{"g":1,"d":117,"v":-2.2},{"g":1,"d":122,"v":-2.3},{"g":1,"d":127,"v":-2.4},{"g":1,"d":132,"v":-2.45},{"g":1,"d":136,"v":-2.55},{"g":1,"d":140,"v":-2.8},{"g":1,"d":146,"v":-2.85},{"g":1,"d":149,"v":-2.6},{"g":1,"d":152,"v":-2.55},{"g":1,"d":155,"v":-2.74},{"g":1,"d":158,"v":-2.55},{"g":1,"d":163,"v":-2.5},{"g":1,"d":168,"v":-2.55},{"g":1,"d":173,"v":-2.6},{"g":1,"d":178,"v":-2.42},{"g":1,"d":181,"v":-2.1},{"g":1,"d":183,"v":-2.2},{"g":1,"d":186,"v":-2.3},{"g":1,"d":190,"v":-2.2},{"g":1,"d":193,"v":-2.3},{"g":1,"d":196,"v":-2.35},{"g":1,"d":200,"v":-2.45},{"g":1,"d":204,"v":-2.5},{"g":1,"d":206,"v":-2.55},{"g":1,"d":209,"v":-2.6},{"g":1,"d":211,"v":-2.82},
{"g":2,"d":214,"v":-2.35},{"g":2,"d":216,"v":-2.28},{"g":2,"d":218,"v":-2.4},{"g":2,"d":220,"v":-2.6},{"g":2,"d":222,"v":-2.9},{"g":2,"d":224,"v":-3.15},
{"g":3,"d":226,"v":-2.35},{"g":3,"d":228,"v":-2.39},{"g":3,"d":231,"v":-2.52},
{"g":4,"d":236,"v":-2.87},{"g":4,"d":238,"v":-3.0},{"g":4,"d":241,"v":-3.17},{"g":4,"d":244,"v":-2.91},{"g":4,"d":246,"v":-2.78},{"g":4,"d":249,"v":-2.69},{"g":4,"d":252,"v":-2.65},{"g":4,"d":254,"v":-2.56},{"g":4,"d":257,"v":-2.52},{"g":4,"d":260,"v":-2.47},{"g":4,"d":262,"v":-2.34},{"g":4,"d":265,"v":-2.26},{"g":4,"d":267.5,"v":-2.17},{"g":4,"d":270,"v":-2.13},{"g":4,"d":274,"v":-2.04},{"g":4,"d":278,"v":-1.91},{"g":4,"d":282,"v":-1.82},{"g":4,"d":286,"v":-1.78},{"g":4,"d":290,"v":-1.86},{"g":4,"d":292.5,"v":-1.82},{"g":4,"d":296,"v":-1.78},{"g":4,"d":299,"v":-1.69},{"g":4,"d":302,"v":-1.65},{"g":4,"d":304,"v":-1.82},{"g":4,"d":307,"v":-1.91},{"g":4,"d":310,"v":-1.86},{"g":4,"d":313.5,"v":-1.82},{"g":4,"d":316,"v":-1.73},{"g":4,"d":320,"v":-1.73},{"g":4,"d":324,"v":-1.65},{"g":4,"d":328,"v":-1.6},{"g":4,"d":329,"v":-1.65}
],
"a_blu": [
{"g":1,"d":14,"v":-1.42},{"g":1,"d":20,"v":-1.45},{"g":1,"d":27,"v":-1.4},{"g":1,"d":33,"v":-1.37},{"g":1,"d":40,"v":-1.38},{"g":1,"d":45,"v":-1.42},{"g":1,"d":48,"v":-1.41},{"g":1,"d":55,"v":-1.45},{"g":1,"d":62,"v":-1.48},{"g":1,"d":69,"v":-1.52},{"g":1,"d":73,"v":-1.53},{"g":1,"d":78,"v":-1.58},{"g":1,"d":83,"v":-1.6},{"g":1,"d":88,"v":-1.63},{"g":1,"d":92.5,"v":-1.66},{"g":1,"d":97,"v":-1.72},{"g":1,"d":102,"v":-1.8},{"g":1,"d":106,"v":-1.95},{"g":1,"d":110,"v":-2.13},{"g":1,"d":113,"v":-2.05},{"g":1,"d":116,"v":-2.0},{"g":1,"d":120,"v":-2.2},{"g":1,"d":123,"v":-2.5},{"g":1,"d":127,"v":-2.52},{"g":1,"d":132,"v":-2.54},{"g":1,"d":137.5,"v":-2.7},{"g":1,"d":142,"v":-2.78},{"g":1,"d":147,"v":-2.84},{"g":1,"d":151,"v":-2.84},{"g":1,"d":156,"v":-3.0},{"g":1,"d":161,"v":-3.07},{"g":1,"d":164,"v":-3.31},{"g":1,"d":167,"v":-3.18},{"g":1,"d":171,"v":-3.07},{"g":1,"d":173,"v":-3.13},{"g":1,"d":176,"v":-3.34},{"g":1,"d":178,"v":-3.3},{"g":1,"d":180.5,"v":-3.3},{"g":1,"d":182,"v":-3.39},
{"g":2,"d":184,"v":-2.15},{"g":2,"d":187,"v":-2.08},{"g":2,"d":189,"v":-2.3},{"g":2,"d":191,"v":-2.69},{"g":2,"d":194,"v":-2.95},{"g":2,"d":197,"v":-3.04},
{"g":3,"d":201,"v":-2.26},{"g":3,"d":204,"v":-2.3},{"g":3,"d":207,"v":-2.17},{"g":3,"d":210,"v":-2.1},{"g":3,"d":215,"v":-2.12},{"g":3,"d":220,"v":-2.1},{"g":3,"d":225,"v":-2.08},{"g":3,"d":230.7,"v":-2.17},{"g":3,"d":232,"v":-2.39},{"g":3,"d":234.6,"v":-2.47},{"g":3,"d":237,"v":-2.45},{"g":3,"d":240,"v":-2.43},{"g":3,"d":242.5,"v":-2.52},{"g":3,"d":245,"v":-2.65},{"g":3,"d":247.7,"v":-2.74},{"g":3,"d":250.4,"v":-2.56},{"g":3,"d":253,"v":-2.6},{"g":3,"d":255.6,"v":-2.65},{"g":3,"d":259.6,"v":-2.56},{"g":3,"d":263.5,"v":-2.52},{"g":3,"d":267.5,"v":-2.47},{"g":3,"d":271.4,"v":-2.39},{"g":3,"d":275.4,"v":-2.43},{"g":3,"d":278,"v":-2.34},{"g":3,"d":280.6,"v":-2.17},{"g":3,"d":283.3,"v":-2.04},{"g":3,"d":287.2,"v":-1.91},{"g":3,"d":291.1,"v":-1.82},{"g":3,"d":295.1,"v":-1.78},{"g":3,"d":299,"v":-1.73},{"g":3,"d":303,"v":-1.82},{"g":3,"d":307,"v":-1.89},{"g":3,"d":310.9,"v":-1.91},{"g":3,"d":314.8,"v":-1.86},{"g":3,"d":318.8,"v":-1.78},{"g":3,"d":322.7,"v":-1.75},{"g":3,"d":328,"v":-1.69},{"g":3,"d":333.2,"v":-1.67},{"g":3,"d":337.2,"v":-1.65},
{"g":4,"d":345,"v":-1.45},{"g":4,"d":350,"v":-1.43},{"g":4,"d":355,"v":-1.41},{"g":4,"d":360,"v":-1.39},{"g":4,"d":365,"v":-1.38}
],
"b_lg": [
{"t":1,"d":0,"v":-1.33},{"t":1,"d":12,"v":-1.3},{"t":1,"d":25,"v":-1.35},{"t":1,"d":38,"v":-1.3},{"t":1,"d":50,"v":-1.28},{"t":1,"d":62,"v":-1.33},{"t":1,"d":75,"v":-1.36},{"t":1,"d":88,"v":-1.4},{"t":1,"d":100,"v":-1.38},{"t":1,"d":112,"v":-1.3},{"t":1,"d":124,"v":-1.3},{"t":1,"d":136,"v":-1.35},
{"t":2,"d":0,"v":-1.75},{"t":2,"d":10,"v":-1.7},{"t":2,"d":22,"v":-1.68},{"t":2,"d":35,"v":-1.65},{"t":2,"d":48,"v":-1.62},{"t":2,"d":60,"v":-1.6},{"t":2,"d":72,"v":-1.62},{"t":2,"d":85,"v":-1.7},{"t":2,"d":97,"v":-1.85},{"t":2,"d":108,"v":-2.0},{"t":2,"d":120,"v":-2.2},{"t":2,"d":133,"v":-2.35},{"t":2,"d":146,"v":-2.45},{"t":2,"d":160,"v":-2.55},{"t":2,"d":172,"v":-2.7},{"t":2,"d":185,"v":-2.9},{"t":2,"d":198,"v":-3.1},{"t":2,"d":212,"v":-3.15},{"t":2,"d":226,"v":-3.2},{"t":2,"d":240,"v":-3.2},{"t":2,"d":254,"v":-3.2},{"t":2,"d":268,"v":-3.0},{"t":2,"d":282,"v":-2.9},{"t":2,"d":294,"v":-2.75},{"t":2,"d":305,"v":-2.55},{"t":2,"d":316,"v":-2.3},{"t":2,"d":328,"v":-2.2},{"t":2,"d":340,"v":-2.1},{"t":2,"d":352,"v":-2.0},{"t":2,"d":365,"v":-1.85},
{"t":3,"d":90,"v":-1.9},{"t":3,"d":100,"v":-2.06},{"t":3,"d":110,"v":-2.4},{"t":3,"d":117,"v":-2.7},{"t":3,"d":127,"v":-3.0},{"t":3,"d":140,"v":-3.3},{"t":3,"d":151,"v":-3.65},{"t":3,"d":165,"v":-3.85},{"t":3,"d":176,"v":-4.0},{"t":3,"d":188,"v":-4.05},{"t":3,"d":200,"v":-4.05},{"t":3,"d":212,"v":-4.0},{"t":3,"d":224,"v":-4.1},{"t":3,"d":236,"v":-4.05},{"t":3,"d":248,"v":-4.15},{"t":3,"d":260,"v":-4.1},{"t":3,"d":272,"v":-4.2},{"t":3,"d":284,"v":-4.05},{"t":3,"d":294,"v":-4.05},{"t":3,"d":305,"v":-3.9},{"t":3,"d":313,"v":-3.8},{"t":3,"d":322,"v":-3.6},{"t":3,"d":330,"v":-3.35},{"t":3,"d":338,"v":-3.15},{"t":3,"d":346,"v":-2.95},{"t":3,"d":354,"v":-2.65},{"t":3,"d":362,"v":-2.45},{"t":3,"d":365,"v":-2.35},
{"t":4,"d":100,"v":-1.9},{"t":4,"d":112,"v":-2.25},{"t":4,"d":124,"v":-2.55},{"t":4,"d":136,"v":-2.8},{"t":4,"d":148,"v":-3.05},{"t":4,"d":160,"v":-3.2},{"t":4,"d":172,"v":-3.4},{"t":4,"d":184,"v":-3.55},{"t":4,"d":196,"v":-3.6},{"t":4,"d":208,"v":-3.55},{"t":4,"d":220,"v":-3.65},{"t":4,"d":232,"v":-3.6},{"t":4,"d":244,"v":-3.7},{"t":4,"d":256,"v":-3.65},{"t":4,"d":268,"v":-3.55},{"t":4,"d":280,"v":-3.5},{"t":4,"d":292,"v":-3.4},{"t":4,"d":304,"v":-3.25},{"t":4,"d":316,"v":-3.0},{"t":4,"d":328,"v":-2.8},{"t":4,"d":340,"v":-2.55},{"t":4,"d":352,"v":-2.3},{"t":4,"d":365,"v":-2.1},
{"t":5,"d":120,"v":-2.5},{"t":5,"d":132,"v":-2.8},{"t":5,"d":144,"v":-3.15},{"t":5,"d":156,"v":-3.35},{"t":5,"d":168,"v":-3.6},{"t":5,"d":180,"v":-3.8},{"t":5,"d":192,"v":-3.85},{"t":5,"d":204,"v":-3.9},{"t":5,"d":216,"v":-3.85},{"t":5,"d":228,"v":-3.95},{"t":5,"d":240,"v":-3.9},{"t":5,"d":252,"v":-3.95},{"t":5,"d":264,"v":-3.85},{"t":5,"d":276,"v":-3.8},{"t":5,"d":288,"v":-3.7},{"t":5,"d":300,"v":-3.55},{"t":5,"d":312,"v":-3.35},{"t":5,"d":324,"v":-3.1},{"t":5,"d":336,"v":-2.85},{"t":5,"d":348,"v":-2.6},{"t":5,"d":360,"v":-2.4},
{"t":6,"d":140,"v":-2.55},{"t":6,"d":152,"v":-2.75},{"t":6,"d":164,"v":-2.95},{"t":6,"d":176,"v":-3.1},{"t":6,"d":188,"v":-3.3},{"t":6,"d":200,"v":-3.35},{"t":6,"d":212,"v":-3.4},{"t":6,"d":224,"v":-3.35},{"t":6,"d":236,"v":-3.45},{"t":6,"d":248,"v":-3.4},{"t":6,"d":260,"v":-3.35},{"t":6,"d":272,"v":-3.25},{"t":6,"d":284,"v":-3.2},{"t":6,"d":296,"v":-3.05},{"t":6,"d":308,"v":-2.85},{"t":6,"d":320,"v":-2.6},{"t":6,"d":332,"v":-2.45},{"t":6,"d":344,"v":-2.3},{"t":6,"d":356,"v":-2.2},
{"t":7,"d":298,"v":-1.35},{"t":7,"d":306,"v":-1.15},{"t":7,"d":314,"v":-1.05},{"t":7,"d":322,"v":-1.2},{"t":7,"d":330,"v":-1.1},{"t":7,"d":338,"v":-1.25},{"t":7,"d":346,"v":-1.15},{"t":7,"d":354,"v":-1.3},{"t":7,"d":362,"v":-1.25},{"t":7,"d":365,"v":-1.35},
{"t":8,"d":300,"v":-1.55},{"t":8,"d":310,"v":-1.4},{"t":8,"d":320,"v":-1.45},{"t":8,"d":330,"v":-1.35},{"t":8,"d":340,"v":-1.4},{"t":8,"d":350,"v":-1.5},{"t":8,"d":358,"v":-1.6},{"t":8,"d":365,"v":-1.7},
{"t":9,"d":335,"v":-1.75},{"t":9,"d":342,"v":-1.85},{"t":9,"d":350,"v":-1.8},{"t":9,"d":358,"v":-1.95},{"t":9,"d":365,"v":-2.0},
{"t":10,"d":0,"v":-1.45},{"t":10,"d":12,"v":-1.42},{"t":10,"d":25,"v":-1.45},{"t":10,"d":38,"v":-1.42},{"t":10,"d":50,"v":-1.4},{"t":10,"d":62,"v":-1.42},{"t":10,"d":75,"v":-1.45},{"t":10,"d":88,"v":-1.5},{"t":10,"d":100,"v":-1.6},{"t":10,"d":110,"v":-1.75},
{"t":11,"d":150,"v":-2.65},{"t":11,"d":162,"v":-2.8},{"t":11,"d":174,"v":-2.95},{"t":11,"d":186,"v":-3.1},{"t":11,"d":198,"v":-3.25},{"t":11,"d":210,"v":-3.3},{"t":11,"d":222,"v":-3.28},{"t":11,"d":234,"v":-3.33},{"t":11,"d":246,"v":-3.3},{"t":11,"d":258,"v":-3.28},{"t":11,"d":270,"v":-3.12},{"t":11,"d":282,"v":-3.05},{"t":11,"d":294,"v":-2.9},{"t":11,"d":306,"v":-2.7},{"t":11,"d":318,"v":-2.45},{"t":11,"d":330,"v":-2.32},{"t":11,"d":342,"v":-2.2},{"t":11,"d":354,"v":-2.1},{"t":11,"d":365,"v":-1.95},
{"t":12,"d":150,"v":-3.5},{"t":12,"d":162,"v":-3.72},{"t":12,"d":174,"v":-3.88},{"t":12,"d":186,"v":-3.95},{"t":12,"d":198,"v":-3.98},{"t":12,"d":210,"v":-4.0},{"t":12,"d":222,"v":-4.02},{"t":12,"d":234,"v":-3.98},{"t":12,"d":246,"v":-4.05},{"t":12,"d":258,"v":-4.0},{"t":12,"d":270,"v":-4.05},{"t":12,"d":282,"v":-3.95},{"t":12,"d":294,"v":-3.88},{"t":12,"d":306,"v":-3.72},{"t":12,"d":316,"v":-3.55},{"t":12,"d":326,"v":-3.3},{"t":12,"d":336,"v":-3.0},{"t":12,"d":346,"v":-2.75},{"t":12,"d":356,"v":-2.55},{"t":12,"d":365,"v":-2.45},
{"t":13,"d":160,"v":-3.35},{"t":13,"d":172,"v":-3.55},{"t":13,"d":184,"v":-3.7},{"t":13,"d":196,"v":-3.75},{"t":13,"d":208,"v":-3.72},{"t":13,"d":220,"v":-3.78},{"t":13,"d":232,"v":-3.75},{"t":13,"d":244,"v":-3.82},{"t":13,"d":256,"v":-3.8},{"t":13,"d":268,"v":-3.7},{"t":13,"d":280,"v":-3.65},{"t":13,"d":292,"v":-3.55},{"t":13,"d":304,"v":-3.4},{"t":13,"d":316,"v":-3.18},{"t":13,"d":328,"v":-2.95},{"t":13,"d":340,"v":-2.72},{"t":13,"d":352,"v":-2.5},{"t":13,"d":365,"v":-2.25},
{"t":14,"d":300,"v":-1.3},{"t":14,"d":310,"v":-1.25},{"t":14,"d":320,"v":-1.3},{"t":14,"d":330,"v":-1.22},{"t":14,"d":340,"v":-1.3},{"t":14,"d":350,"v":-1.35},{"t":14,"d":358,"v":-1.42},{"t":14,"d":365,"v":-1.5}
],
"b_lgs": [
{"d":2,"v":-2.0},{"d":5,"v":-2.2},{"d":9,"v":-2.46},{"d":12,"v":-2.41},{"d":15,"v":-2.1},{"d":20,"v":-2.12},{"d":31,"v":-1.95},{"d":8,"v":-1.9},{"d":96,"v":-1.3},{"d":110,"v":-1.25},{"d":125,"v":-1.32},{"d":135,"v":-1.28},{"d":146,"v":-1.32},{"d":200,"v":-2.65},{"d":210,"v":-2.85},{"d":218,"v":-2.95},{"d":230,"v":-3.0},{"d":265,"v":-2.7},{"d":278,"v":-2.6},{"d":268,"v":-4.66},{"d":274.5,"v":-4.68},{"d":262,"v":-4.45},{"d":283,"v":-4.5},{"d":290,"v":-4.4},{"d":280,"v":-4.35},{"d":320,"v":-4.0},{"d":307,"v":-4.3},{"d":255,"v":-4.3},{"d":240,"v":-4.35},{"d":224,"v":-4.3},{"d":210,"v":-4.3},{"d":196,"v":-4.25},{"d":170,"v":-4.15},{"d":155,"v":-3.9},{"d":290.8,"v":-1.62},{"d":313,"v":-1.02},{"d":325,"v":-1.05},{"d":190,"v":-2.7},{"d":245,"v":-2.9},{"d":253,"v":-3.0},{"d":140,"v":-3.45},{"d":130,"v":-3.2},{"d":160,"v":-3.85}
],
"b_dg": [
{"t":1,"d":0,"v":-1.64},{"t":1,"d":15,"v":-1.63},{"t":1,"d":30,"v":-1.47},{"t":1,"d":45,"v":-1.43},{"t":1,"d":60,"v":-1.42},{"t":1,"d":75,"v":-1.43},{"t":1,"d":90,"v":-1.46},{"t":1,"d":105,"v":-1.5},{"t":1,"d":120,"v":-1.5},{"t":1,"d":135,"v":-1.5},{"t":1,"d":150,"v":-1.5},{"t":1,"d":165,"v":-1.46},{"t":1,"d":180,"v":-1.43},{"t":1,"d":190,"v":-1.4},{"t":1,"d":195,"v":-1.6},{"t":1,"d":210,"v":-1.55},{"t":1,"d":225,"v":-1.55},{"t":1,"d":240,"v":-1.55},{"t":1,"d":255,"v":-1.57},{"t":1,"d":270,"v":-1.6},{"t":1,"d":285,"v":-1.8},{"t":1,"d":300,"v":-1.95},{"t":1,"d":315,"v":-2.0},{"t":1,"d":330,"v":-1.8},{"t":1,"d":345,"v":-1.68},{"t":1,"d":362,"v":-1.6},
{"t":2,"d":0,"v":-1.75},{"t":2,"d":15,"v":-1.8},{"t":2,"d":22,"v":-1.93},{"t":2,"d":30,"v":-1.6},{"t":2,"d":45,"v":-1.57},{"t":2,"d":60,"v":-1.57},{"t":2,"d":75,"v":-1.58},{"t":2,"d":90,"v":-1.6},{"t":2,"d":105,"v":-1.75},{"t":2,"d":120,"v":-1.95},{"t":2,"d":135,"v":-2.1},{"t":2,"d":150,"v":-2.35},{"t":2,"d":165,"v":-2.45},{"t":2,"d":180,"v":-2.55},{"t":2,"d":195,"v":-2.5},{"t":2,"d":210,"v":-2.5},{"t":2,"d":225,"v":-2.55},{"t":2,"d":240,"v":-2.6},{"t":2,"d":255,"v":-2.75},{"t":2,"d":270,"v":-2.8},{"t":2,"d":285,"v":-2.78},{"t":2,"d":300,"v":-2.55},{"t":2,"d":315,"v":-2.45},{"t":2,"d":330,"v":-2.25},{"t":2,"d":345,"v":-2.1},{"t":2,"d":362,"v":-1.9},
{"t":3,"d":0,"v":-1.7},{"t":3,"d":15,"v":-1.72},{"t":3,"d":30,"v":-1.53},{"t":3,"d":45,"v":-1.5},{"t":3,"d":60,"v":-1.5},{"t":3,"d":75,"v":-1.5},{"t":3,"d":90,"v":-1.53},{"t":3,"d":105,"v":-1.62},{"t":3,"d":120,"v":-1.72},{"t":3,"d":135,"v":-1.8},{"t":3,"d":150,"v":-1.92},{"t":3,"d":165,"v":-1.95},{"t":3,"d":180,"v":-2.0},{"t":3,"d":195,"v":-2.05},{"t":3,"d":210,"v":-2.0},{"t":3,"d":225,"v":-2.05},{"t":3,"d":240,"v":-2.1},{"t":3,"d":255,"v":-2.15},{"t":3,"d":270,"v":-2.2},{"t":3,"d":285,"v":-2.3},{"t":3,"d":300,"v":-2.25},{"t":3,"d":315,"v":-2.22},{"t":3,"d":330,"v":-2.02},{"t":3,"d":345,"v":-1.9},{"t":3,"d":362,"v":-1.75},
{"t":4,"d":100,"v":-1.55},{"t":4,"d":115,"v":-1.6},{"t":4,"d":130,"v":-1.65},{"t":4,"d":145,"v":-1.7},{"t":4,"d":160,"v":-1.7},{"t":4,"d":175,"v":-1.65},{"t":4,"d":190,"v":-1.75},{"t":4,"d":205,"v":-1.75},{"t":4,"d":220,"v":-1.75},{"t":4,"d":235,"v":-1.7},{"t":4,"d":250,"v":-1.72},{"t":4,"d":265,"v":-1.78},{"t":4,"d":280,"v":-1.95},{"t":4,"d":295,"v":-2.1},{"t":4,"d":310,"v":-2.12},{"t":4,"d":325,"v":-1.92},{"t":4,"d":340,"v":-1.8},{"t":4,"d":355,"v":-1.7},
{"t":5,"d":110,"v":-1.8},{"t":5,"d":125,"v":-2.0},{"t":5,"d":140,"v":-2.15},{"t":5,"d":155,"v":-2.2},{"t":5,"d":170,"v":-2.3},{"t":5,"d":185,"v":-2.35},{"t":5,"d":200,"v":-2.35},{"t":5,"d":215,"v":-2.3},{"t":5,"d":230,"v":-2.35},{"t":5,"d":245,"v":-2.4},{"t":5,"d":260,"v":-2.5},{"t":5,"d":275,"v":-2.6},{"t":5,"d":290,"v":-2.6},{"t":5,"d":305,"v":-2.4},{"t":5,"d":320,"v":-2.3},{"t":5,"d":335,"v":-2.12},{"t":5,"d":350,"v":-1.98},{"t":5,"d":362,"v":-1.85},
{"t":6,"d":130,"v":-1.6},{"t":6,"d":145,"v":-1.85},{"t":6,"d":160,"v":-2.05},{"t":6,"d":175,"v":-2.15},{"t":6,"d":190,"v":-2.2},{"t":6,"d":205,"v":-2.15},{"t":6,"d":220,"v":-2.2},{"t":6,"d":235,"v":-2.25},{"t":6,"d":250,"v":-2.3},{"t":6,"d":265,"v":-2.4},{"t":6,"d":280,"v":-2.45},{"t":6,"d":295,"v":-2.4},{"t":6,"d":310,"v":-2.3},{"t":6,"d":325,"v":-2.1},{"t":6,"d":340,"v":-1.95},{"t":6,"d":355,"v":-1.85},
{"t":7,"d":150,"v":-1.6},{"t":7,"d":165,"v":-1.6},{"t":7,"d":180,"v":-1.65},{"t":7,"d":195,"v":-1.7},{"t":7,"d":210,"v":-1.65},{"t":7,"d":225,"v":-1.68},{"t":7,"d":240,"v":-1.65},{"t":7,"d":255,"v":-1.72},{"t":7,"d":270,"v":-1.85},{"t":7,"d":285,"v":-2.0},{"t":7,"d":300,"v":-2.05},
{"t":8,"d":205,"v":-2.45},{"t":8,"d":220,"v":-2.45},{"t":8,"d":235,"v":-2.5},{"t":8,"d":250,"v":-2.6},{"t":8,"d":265,"v":-2.7},{"t":8,"d":280,"v":-2.75},{"t":8,"d":292,"v":-2.7},
{"t":9,"d":120,"v":-1.58},{"t":9,"d":135,"v":-1.6},{"t":9,"d":150,"v":-1.72},{"t":9,"d":165,"v":-1.82},{"t":9,"d":180,"v":-1.85},{"t":9,"d":195,"v":-1.88},{"t":9,"d":210,"v":-1.85},{"t":9,"d":225,"v":-1.88},{"t":9,"d":240,"v":-1.9},{"t":9,"d":255,"v":-1.95},{"t":9,"d":270,"v":-2.02},{"t":9,"d":285,"v":-2.15},{"t":9,"d":300,"v":-2.15},{"t":9,"d":315,"v":-2.12},
{"t":10,"d":140,"v":-1.95},{"t":10,"d":155,"v":-2.1},{"t":10,"d":170,"v":-2.15},{"t":10,"d":185,"v":-2.2},{"t":10,"d":200,"v":-2.25},{"t":10,"d":215,"v":-2.2},{"t":10,"d":230,"v":-2.15},{"t":10,"d":245,"v":-2.2},{"t":10,"d":260,"v":-2.3},{"t":10,"d":275,"v":-2.35},{"t":10,"d":290,"v":-2.5},{"t":10,"d":305,"v":-2.5},{"t":10,"d":320,"v":-2.38},{"t":10,"d":335,"v":-2.2},{"t":10,"d":350,"v":-2.05},{"t":10,"d":362,"v":-1.95},
{"t":11,"d":200,"v":-1.58},{"t":11,"d":215,"v":-1.6},{"t":11,"d":230,"v":-1.6},{"t":11,"d":245,"v":-1.6},{"t":11,"d":260,"v":-1.65},{"t":11,"d":275,"v":-1.72},{"t":11,"d":290,"v":-1.9},
{"t":12,"d":30,"v":-1.58},{"t":12,"d":45,"v":-1.53},{"t":12,"d":60,"v":-1.53},{"t":12,"d":75,"v":-1.55},{"t":12,"d":90,"v":-1.57},{"t":12,"d":105,"v":-1.68},{"t":12,"d":120,"v":-1.85}
],
"b_dgs": [
{"d":188,"v":-1.45},{"d":198,"v":-2.7},{"d":200,"v":-2.8},{"d":214,"v":-2.7},{"d":205,"v":-2.6},{"d":270,"v":-2.95},{"d":283,"v":-2.85},{"d":262,"v":-2.85},{"d":275,"v":-2.9},{"d":225,"v":-2.65},{"d":180,"v":-2.65}
],
"b_red": [
{"d":0,"v":-1.5},{"d":1.2,"v":-1.63},{"d":2.5,"v":-1.66},{"d":3.7,"v":-1.74},{"d":4.9,"v":-1.79},{"d":6.2,"v":-1.58},{"d":7.4,"v":-1.52},{"d":9.9,"v":-1.55},{"d":12.4,"v":-1.5},{"d":16,"v":-1.52},{"d":19.8,"v":-1.47},{"d":23.5,"v":-1.5},{"d":27.2,"v":-1.5},{"d":30.9,"v":-1.42},{"d":34.6,"v":-1.5},{"d":37.1,"v":-1.47},{"d":40.8,"v":-1.52},{"d":47,"v":-1.58},{"d":50.7,"v":-1.66},{"d":53.2,"v":-1.69},{"d":55.7,"v":-1.63},{"d":60.6,"v":-1.63},{"d":64.3,"v":-1.55},{"d":68,"v":-1.39},{"d":70.5,"v":-1.42},{"d":74.2,"v":-1.58},{"d":76.7,"v":-1.55},{"d":80.4,"v":-1.74},{"d":84.1,"v":-1.82},{"d":86.6,"v":-1.85},{"d":89.1,"v":-1.9},{"d":91.5,"v":-1.74},{"d":96.5,"v":-1.85},{"d":99,"v":-1.98},{"d":101.4,"v":-1.93},{"d":103.9,"v":-2.03},{"d":106.4,"v":-1.79},{"d":107.6,"v":-2.06},{"d":111.3,"v":-1.95},{"d":113.8,"v":-2.11},{"d":116.3,"v":-2.2},{"d":118.8,"v":-2.28},{"d":122.5,"v":-2.3},{"d":126.2,"v":-2.28},{"d":129.9,"v":-2.46},{"d":132.4,"v":-2.57},{"d":134.8,"v":-2.54},{"d":137.3,"v":-2.52},{"d":139.8,"v":-2.49},{"d":142.3,"v":-2.52},{"d":146,"v":-2.87},{"d":148.4,"v":-2.95},{"d":150.9,"v":-2.97},{"d":152.2,"v":-2.84},{"d":155.9,"v":-2.89},{"d":158.3,"v":-3.05},{"d":160.8,"v":-3.14},{"d":163.3,"v":-2.57},{"d":164.5,"v":-2.73},{"d":167,"v":-2.68},{"d":168.2,"v":-2.81},{"d":170.7,"v":-3.67},{"d":173.2,"v":-3.51},{"d":174.4,"v":-3.78},{"d":176.9,"v":-3.94},{"d":178.1,"v":-3.81},{"d":181.8,"v":-3.56},{"d":184.3,"v":-3.67},{"d":185.3,"v":-3.5},{"d":186.5,"v":-3.8},{"d":187.6,"v":-3.5},{"d":189.9,"v":-3.35},{"d":191.1,"v":-3.35},{"d":194,"v":-3.65},{"d":195.7,"v":-3.77},{"d":196.9,"v":-3.68},{"d":199.2,"v":-3.32},{"d":200.4,"v":-2.89},{"d":201,"v":-3.26},{"d":202.7,"v":-3.47},{"d":203.8,"v":-3.53},{"d":204.4,"v":-3.8},{"d":205.6,"v":-3.53},{"d":208.5,"v":-4.01},{"d":210.2,"v":-3.5},{"d":211.4,"v":-3.44},{"d":212,"v":-3.62},{"d":213.1,"v":-3.77},{"d":215.4,"v":-3.89},{"d":216.6,"v":-4.01},{"d":217.8,"v":-4.04},{"d":220.1,"v":-3.74},{"d":221.2,"v":-3.35},{"d":222.4,"v":-3.8},{"d":224.7,"v":-3.56},{"d":225.9,"v":-3.38},{"d":228.2,"v":-3.47},{"d":229.3,"v":-4.19},{"d":230.5,"v":-3.92},{"d":231.7,"v":-3.8},{"d":233.4,"v":-3.38},{"d":235.1,"v":-3.47},{"d":236.9,"v":-3.62},{"d":238.6,"v":-3.62},{"d":240.4,"v":-3.65},{"d":241.5,"v":-3.71},{"d":243.3,"v":-3.29},{"d":243.8,"v":-3.47},{"d":245.6,"v":-3.62},{"d":246.7,"v":-3.47},{"d":248.5,"v":-3.53},{"d":251.4,"v":-3.26},{"d":253.7,"v":-3.56},{"d":254.8,"v":-3.14},{"d":256.6,"v":-3.01},{"d":258.3,"v":-3.17},{"d":259.5,"v":-3.44},{"d":261.2,"v":-3.44},{"d":261.8,"v":-3.2},{"d":263,"v":-2.98},{"d":264.7,"v":-3.08},{"d":266.4,"v":-3.32},{"d":268.2,"v":-3.01},{"d":269.3,"v":-2.92},{"d":271.1,"v":-2.83},{"d":273.4,"v":-3.05},{"d":274.5,"v":-2.86},{"d":276.3,"v":-2.98},{"d":278,"v":-3.01},{"d":279.2,"v":-3.14},{"d":281.5,"v":-3.11},{"d":283.2,"v":-2.83},{"d":284.4,"v":-2.44},{"d":286.1,"v":-2.68},{"d":287.3,"v":-2.74},{"d":288.5,"v":-2.86},{"d":290.2,"v":-2.83},{"d":291.9,"v":-2.92},{"d":293.1,"v":-2.98},{"d":293.7,"v":-2.38},{"d":298.9,"v":-2.38},{"d":294.8,"v":-1.29},{"d":296.6,"v":-1.47},{"d":297.7,"v":-1.53},{"d":300,"v":-1.29},{"d":301.2,"v":-1.26},{"d":302.4,"v":-1.72},{"d":303.5,"v":-1.9},{"d":305.3,"v":-1.2},{"d":306,"v":-1.26},{"d":307,"v":-1.32},{"d":309,"v":-1.3},{"d":311.6,"v":-1.35},{"d":313,"v":-1.32},{"d":315.1,"v":-1.38},{"d":317.4,"v":-1.35},{"d":319.7,"v":-1.32},{"d":321,"v":-1.35},{"d":322.1,"v":-1.66},{"d":324.4,"v":-1.81},{"d":326.7,"v":-2.17},{"d":327.9,"v":-2.05},{"d":329,"v":-1.93},{"d":333.7,"v":-2.02},{"d":336,"v":-1.87},{"d":339.4,"v":-1.72},{"d":342.9,"v":-1.9},{"d":345.2,"v":-1.44},{"d":347.6,"v":-1.38},{"d":351,"v":-1.41},{"d":354.5,"v":-1.44},{"d":359.1,"v":-1.5},{"d":361.5,"v":-1.47},{"d":363.8,"v":-1.41}
],
"b_dbl": [
{"d":1.2,"v":-2.22},{"d":2.5,"v":-1.95},{"d":3.7,"v":-1.44},{"d":6.2,"v":-1.39},{"d":9.9,"v":-1.42},{"d":12.4,"v":-1.39},{"d":16.1,"v":-1.39},{"d":18.6,"v":-1.42},{"d":21,"v":-1.44},{"d":24.7,"v":-1.5},{"d":28.5,"v":-1.5},{"d":32.2,"v":-1.52},{"d":35.9,"v":-1.58},{"d":39.6,"v":-1.6},{"d":43.3,"v":-1.58},{"d":47,"v":-1.52},{"d":52,"v":-1.47},{"d":55.7,"v":-1.42},{"d":59.4,"v":-1.39},{"d":61.9,"v":-1.39},{"d":64.3,"v":-1.55},{"d":68,"v":-1.58},{"d":71.7,"v":-1.66},{"d":75.5,"v":-1.69},{"d":79.2,"v":-1.74},{"d":82.9,"v":-1.79},{"d":86.6,"v":-1.82},{"d":90.3,"v":-1.74},{"d":91.5,"v":-1.42},{"d":94,"v":-1.66},{"d":97.7,"v":-1.71},{"d":100.2,"v":-1.77},{"d":102.7,"v":-1.77},{"d":105.1,"v":-1.98},{"d":107.6,"v":-2.09},{"d":108.9,"v":-2.14},{"d":111.3,"v":-2.3},{"d":113.8,"v":-2.36},{"d":116.3,"v":-2.36},{"d":118.8,"v":-2.41},{"d":121.2,"v":-2.38},{"d":123.7,"v":-2.52},{"d":126.2,"v":-2.54},{"d":129.9,"v":-2.52},{"d":133.6,"v":-1.69},{"d":134.8,"v":-1.63},{"d":136.1,"v":-1.66},{"d":137.3,"v":-2.25},{"d":139.8,"v":-2.41},{"d":141,"v":-2.36},{"d":143.5,"v":-2.73},{"d":146,"v":-2.79},{"d":148.4,"v":-2.89},{"d":152.2,"v":-2.79},{"d":154.6,"v":-3.0},{"d":157.1,"v":-2.92},{"d":159.6,"v":-2.97},{"d":162,"v":-3.0},{"d":164.5,"v":-3.05},{"d":168.2,"v":-2.92},{"d":170.7,"v":-2.95},{"d":174.4,"v":-3.16},{"d":176.9,"v":-3.14},{"d":180.6,"v":-3.14},{"d":184.3,"v":-3.24},{"d":186.8,"v":-3.22},{"d":185.3,"v":-3.65},{"d":186.5,"v":-3.35},{"d":187.6,"v":-3.32},{"d":188.8,"v":-2.92},{"d":189.9,"v":-2.95},{"d":191.1,"v":-3.05},{"d":191.7,"v":-3.14},{"d":192.3,"v":-3.2},{"d":193.4,"v":-3.32},{"d":194.6,"v":-3.59},{"d":195.7,"v":-3.89},{"d":196.9,"v":-3.62},{"d":198.1,"v":-3.53},{"d":199.2,"v":-3.41},{"d":200.4,"v":-3.5},{"d":201.5,"v":-3.59},{"d":202.7,"v":-3.44},{"d":203.8,"v":-3.59},{"d":206.2,"v":-3.65},{"d":207.3,"v":-3.71},{"d":208.5,"v":-3.77},{"d":209.6,"v":-3.95},{"d":210.8,"v":-3.95},{"d":213.1,"v":-3.68},{"d":214.3,"v":-3.77},{"d":215.4,"v":-3.5},{"d":216.6,"v":-3.23},{"d":217.8,"v":-3.65},{"d":218.9,"v":-3.8},{"d":220.1,"v":-3.65},{"d":221.2,"v":-3.5},{"d":222.4,"v":-3.8},{"d":223.5,"v":-3.59},{"d":224.7,"v":-3.8},{"d":225.9,"v":-3.65},{"d":227,"v":-3.83},{"d":228.2,"v":-3.59},{"d":229.3,"v":-3.65},{"d":230.5,"v":-3.62},{"d":231.7,"v":-3.59},{"d":232.8,"v":-3.77},{"d":234,"v":-3.56},{"d":235.1,"v":-3.8},{"d":236.3,"v":-3.53},{"d":237.5,"v":-3.83},{"d":238.6,"v":-3.38},{"d":239.8,"v":-3.83},{"d":240.9,"v":-3.65},{"d":242.1,"v":-3.92},{"d":243.3,"v":-3.95},{"d":245,"v":-3.98},{"d":246.7,"v":-3.98},{"d":247.9,"v":-3.5},{"d":249,"v":-2.86},{"d":250.2,"v":-3.53},{"d":251.9,"v":-3.62},{"d":253.7,"v":-3.83},{"d":254.8,"v":-3.65},{"d":256,"v":-3.74},{"d":257.7,"v":-3.95},{"d":258.9,"v":-4.1},{"d":259.5,"v":-3.74},{"d":260.6,"v":-3.62},{"d":261.8,"v":-3.5},{"d":262.4,"v":-3.98},{"d":275.7,"v":-3.29},{"d":276.9,"v":-3.32},{"d":278,"v":-3.35},{"d":279.2,"v":-3.2},{"d":280.3,"v":-3.23},{"d":282.7,"v":-2.62},{"d":283.8,"v":-3.23},{"d":285,"v":-3.26},{"d":286.1,"v":-3.32},{"d":287.3,"v":-3.35},{"d":288.5,"v":-3.35},{"d":289.6,"v":-3.26},{"d":290.8,"v":-3.23},{"d":291.9,"v":-3.14},{"d":293.7,"v":-3.17},{"d":294.2,"v":-2.98},{"d":295.4,"v":-2.77},{"d":296.6,"v":-2.5},{"d":297.7,"v":-2.86},{"d":293.1,"v":-3.35},{"d":276.3,"v":-3.5},{"d":265.3,"v":-1.02},{"d":266.4,"v":-1.05},{"d":269.9,"v":-1.11},{"d":271.1,"v":-1.2},{"d":272.8,"v":-1.14},{"d":264.1,"v":-1.41},{"d":268.2,"v":-1.41},{"d":281.5,"v":-1.5},{"d":280.9,"v":-1.64},{"d":267,"v":-1.66},{"d":301.2,"v":-1.26},{"d":300,"v":-1.38},{"d":302.4,"v":-1.47},{"d":303.5,"v":-1.53},{"d":304.7,"v":-1.29},{"d":307,"v":-1.32},{"d":309.3,"v":-1.29},{"d":310.5,"v":-1.26},{"d":312.8,"v":-1.29},{"d":315.1,"v":-1.35},{"d":316.3,"v":-1.38},{"d":318.6,"v":-1.32},{"d":320.9,"v":-1.35},{"d":322.1,"v":-1.41},{"d":323.2,"v":-1.5},{"d":320.5,"v":-1.62},{"d":327.9,"v":-2.08},{"d":330.2,"v":-2.02},{"d":329,"v":-2.08},{"d":334.8,"v":-2.08},{"d":339.4,"v":-2.02},{"d":341.2,"v":-1.72},{"d":331.3,"v":-2.26},{"d":333.7,"v":-2.32},{"d":337.1,"v":-2.26},{"d":332.5,"v":-2.2},{"d":326.1,"v":-2.38},{"d":325,"v":-2.53},{"d":342.9,"v":-1.5},{"d":345.2,"v":-1.53},{"d":347.6,"v":-1.47},{"d":351,"v":-1.44},{"d":353.4,"v":-1.41},{"d":355.7,"v":-1.38},{"d":358,"v":-1.47},{"d":360.3,"v":-1.5},{"d":362.6,"v":-1.53},{"d":363.8,"v":-1.56}
],
"b_mag": [
{"g":1,"d":0,"v":-1.6},{"g":1,"d":10,"v":-1.58},{"g":1,"d":20,"v":-1.55},{"g":1,"d":30,"v":-1.5},{"g":1,"d":40,"v":-1.47},{"g":1,"d":45,"v":-1.5},{"g":1,"d":49,"v":-1.52},{"g":1,"d":55,"v":-1.5},{"g":1,"d":62,"v":-1.48},{"g":1,"d":67,"v":-1.47},{"g":1,"d":72,"v":-1.47},{"g":1,"d":80,"v":-1.52},{"g":1,"d":90,"v":-1.58},{"g":1,"d":100,"v":-1.62},{"g":1,"d":104,"v":-1.7},{"g":1,"d":110,"v":-1.72},{"g":1,"d":117,"v":-1.73},{"g":1,"d":124,"v":-1.76},{"g":1,"d":130,"v":-1.98},{"g":1,"d":136,"v":-2.05},{"g":1,"d":142,"v":-2.09},{"g":1,"d":146,"v":-2.2},{"g":1,"d":150,"v":-2.26},{"g":1,"d":154,"v":-2.3},{"g":1,"d":157,"v":-2.38},{"g":1,"d":161,"v":-2.45},{"g":1,"d":165,"v":-2.46},{"g":1,"d":167,"v":-2.4},{"g":1,"d":169,"v":-2.2},{"g":1,"d":171,"v":-2.0},{"g":1,"d":173,"v":-1.8},{"g":1,"d":177,"v":-1.76},{"g":1,"d":181,"v":-1.87},{"g":1,"d":185.3,"v":-1.84},{"g":1,"d":187.6,"v":-1.87},{"g":1,"d":189.9,"v":-1.9},{"g":1,"d":192.3,"v":-1.96},{"g":1,"d":194.6,"v":-1.9},{"g":1,"d":196.9,"v":-1.9},{"g":1,"d":199.2,"v":-2.02},{"g":1,"d":201.5,"v":-2.05},{"g":1,"d":203.8,"v":-1.99},{"g":1,"d":206.2,"v":-1.97},{"g":1,"d":208.5,"v":-2.14},{"g":1,"d":210.8,"v":-2.14},{"g":1,"d":213.1,"v":-2.02},{"g":1,"d":215.4,"v":-1.9},{"g":1,"d":217.8,"v":-1.87},{"g":1,"d":220.1,"v":-2.05},{"g":1,"d":222.4,"v":-2.08},{"g":1,"d":224.7,"v":-2.02},{"g":1,"d":225.9,"v":-1.93},{"g":1,"d":227,"v":-2.08},{"g":1,"d":229.3,"v":-2.2},{"g":1,"d":231.7,"v":-2.26},{"g":1,"d":234,"v":-2.08},{"g":1,"d":236.3,"v":-1.93},{"g":1,"d":238.6,"v":-1.87},{"g":1,"d":240.9,"v":-1.87},{"g":1,"d":243.3,"v":-1.87},{"g":1,"d":245.6,"v":-1.84},{"g":1,"d":247.9,"v":-1.9},{"g":1,"d":249.6,"v":-2.05},{"g":1,"d":251.4,"v":-2.11},{"g":1,"d":253.7,"v":-2.17},{"g":1,"d":256,"v":-2.2},{"g":1,"d":258.3,"v":-2.17},{"g":1,"d":260.6,"v":-2.2},{"g":1,"d":263,"v":-2.23},{"g":1,"d":265.3,"v":-2.14},{"g":1,"d":267.6,"v":-2.08},{"g":1,"d":269.9,"v":-2.02},{"g":1,"d":273.4,"v":-1.93},{"g":1,"d":275.7,"v":-1.9},{"g":1,"d":278,"v":-1.91},{"g":1,"d":281.5,"v":-1.93},{"g":1,"d":285,"v":-1.96},{"g":1,"d":289.6,"v":-1.97},{"g":1,"d":294.2,"v":-1.99},{"g":1,"d":298.9,"v":-2.0},{"g":1,"d":303.5,"v":-2.03},{"g":1,"d":307,"v":-2.02},{"g":1,"d":310.5,"v":-1.99},{"g":1,"d":313.9,"v":-1.93},{"g":1,"d":317.4,"v":-1.84},{"g":1,"d":319.7,"v":-1.78},{"g":1,"d":322.1,"v":-1.87},{"g":1,"d":324.4,"v":-2.0},{"g":1,"d":327,"v":-2.1}
],
"b_blu": [
{"g":1,"d":10,"v":-1.72},{"g":1,"d":14,"v":-1.7},{"g":1,"d":18,"v":-1.68},{"g":1,"d":22,"v":-1.66},{"g":1,"d":26,"v":-1.62},{"g":1,"d":30,"v":-1.6},{"g":1,"d":35,"v":-1.6},{"g":1,"d":40,"v":-1.55},{"g":1,"d":46,"v":-1.52},{"g":1,"d":52,"v":-1.5},{"g":1,"d":58,"v":-1.52},{"g":1,"d":64,"v":-1.53},{"g":1,"d":70,"v":-1.55},{"g":1,"d":76,"v":-1.54},{"g":1,"d":82,"v":-1.56},{"g":1,"d":88,"v":-1.55},{"g":1,"d":94,"v":-1.56},{"g":1,"d":99,"v":-1.58},{"g":1,"d":102,"v":-1.66},{"g":1,"d":106,"v":-1.7},{"g":1,"d":110,"v":-1.74},{"g":1,"d":114,"v":-1.78},{"g":1,"d":118,"v":-1.82},{"g":1,"d":122,"v":-1.85},{"g":1,"d":126,"v":-1.88},{"g":1,"d":130,"v":-1.93},{"g":1,"d":134,"v":-1.98},{"g":1,"d":138,"v":-2.02},{"g":1,"d":142,"v":-2.07},{"g":1,"d":146,"v":-2.12},{"g":1,"d":149,"v":-2.25},{"g":1,"d":152,"v":-2.28},{"g":1,"d":155,"v":-2.3},{"g":1,"d":158,"v":-2.16},{"g":1,"d":161,"v":-2.2},{"g":1,"d":163,"v":-1.92},{"g":1,"d":167,"v":-1.88},{"g":1,"d":171,"v":-1.9},{"g":1,"d":173,"v":-2.1},{"g":1,"d":176,"v":-2.33},{"g":1,"d":179,"v":-2.41},
{"g":2,"d":183,"v":-1.8},{"g":2,"d":185.3,"v":-1.75},{"g":2,"d":187.6,"v":-1.75},{"g":2,"d":189.9,"v":-1.78},{"g":2,"d":192.3,"v":-1.9},{"g":2,"d":194.6,"v":-2.02},{"g":2,"d":196.9,"v":-2.05},{"g":2,"d":199.2,"v":-2.08},{"g":2,"d":201.5,"v":-2.05},{"g":2,"d":203.8,"v":-2.08},{"g":2,"d":206.2,"v":-2.05},{"g":2,"d":208.5,"v":-1.96},{"g":2,"d":210.8,"v":-1.87},{"g":2,"d":213.1,"v":-1.93},{"g":2,"d":215.4,"v":-1.99},{"g":2,"d":217.8,"v":-2.02},{"g":2,"d":220.1,"v":-1.9},{"g":2,"d":222.4,"v":-1.84},{"g":2,"d":224.7,"v":-1.81},{"g":2,"d":227,"v":-1.84},{"g":2,"d":229.3,"v":-1.96},{"g":2,"d":231.7,"v":-2.11},{"g":2,"d":234,"v":-2.23},{"g":2,"d":236.3,"v":-2.35},{"g":2,"d":238.6,"v":-2.38},{"g":2,"d":240.9,"v":-2.38},{"g":2,"d":242.7,"v":-2.44},{"g":2,"d":243.8,"v":-2.62},{"g":2,"d":245.6,"v":-2.44},{"g":2,"d":247.9,"v":-2.38},{"g":2,"d":250.2,"v":-2.35},{"g":2,"d":252.5,"v":-2.33},{"g":2,"d":254.8,"v":-2.32},{"g":2,"d":257.2,"v":-2.29},{"g":2,"d":259.5,"v":-2.26},{"g":2,"d":261.8,"v":-2.23},{"g":2,"d":264.1,"v":-2.32},{"g":2,"d":266.4,"v":-2.38},{"g":2,"d":268.7,"v":-2.35},{"g":2,"d":271.1,"v":-2.29},{"g":2,"d":273.4,"v":-2.23},{"g":2,"d":275.7,"v":-2.32},{"g":2,"d":278,"v":-2.44},{"g":2,"d":280.3,"v":-2.32},{"g":2,"d":282.7,"v":-2.26},{"g":2,"d":285,"v":-2.2},{"g":2,"d":287.3,"v":-2.18},{"g":2,"d":289.6,"v":-2.17},{"g":2,"d":291.9,"v":-2.15},{"g":2,"d":294.2,"v":-2.14},{"g":2,"d":298.9,"v":-2.12},{"g":2,"d":303.5,"v":-2.11},{"g":2,"d":307,"v":-2.17},{"g":2,"d":309.3,"v":-2.26},{"g":2,"d":311.6,"v":-2.2},{"g":2,"d":313.9,"v":-2.14},{"g":2,"d":317.4,"v":-2.05},{"g":2,"d":320.9,"v":-1.99},{"g":2,"d":322.2,"v":-2.02},{"g":2,"d":325.5,"v":-1.93},{"g":2,"d":329,"v":-1.84},{"g":2,"d":332.5,"v":-1.78},{"g":2,"d":336,"v":-1.75},{"g":2,"d":339.4,"v":-1.72},{"g":2,"d":342.9,"v":-1.56},{"g":2,"d":347.6,"v":-1.59},{"g":2,"d":349.9,"v":-1.65},{"g":2,"d":353,"v":-1.6},{"g":2,"d":356.8,"v":-1.56},{"g":2,"d":361.5,"v":-1.53},{"g":2,"d":365,"v":-1.52}
]
},
"vconcat": [
{
"width": 3575, "height": 1140,
"resolve": {"axis": {"x": "independent", "y": "independent"}},
"layer": [
{"data": {"name": "a_lg"}, "mark": {"type": "line", "strokeWidth": 34, "strokeCap": "round", "strokeJoin": "round"},
 "encoding": {"x": {"field": "d", "type": "quantitative", "scale": {"domain": [0, 365], "nice": false, "zero": false}, "axis": null}, "y": {"field": "v", "type": "quantitative", "scale": {"domain": [-6, 0], "nice": false, "zero": false}, "axis": null}, "detail": {"field": "t", "type": "nominal"},
  "color": {"datum": "AHTS 1996-2018", "type": "nominal",
   "scale": {"domain": ["Vortex edge 1996-2018", "AHTS 1996-2018", "Vortex edge 2019", "AHTS 2019", "Vortex edge 2002", "AHTS 2002"], "range": ["#4a4745", "#b8b3b0", "#c8408e", "#e4152b", "#3b7fc1", "#223a8e"]},
   "legend": {"orient": "none", "legendX": 104, "legendY": 611, "title": "θ = 600 K", "titleFontSize": 53, "titleFontWeight": "normal", "titleColor": "#000", "titlePadding": 9, "titleLimit": 3000, "labelFontSize": 53, "labelLimit": 3000, "labelColor": {"expr": "({'Vortex edge 1996-2018':'#4a4745','AHTS 1996-2018':'#b8b3b0','Vortex edge 2019':'#c8408e','AHTS 2019':'#e4152b','Vortex edge 2002':'#3b7fc1','AHTS 2002':'#223a8e'})[datum.value]"}, "symbolOpacity": 0, "symbolSize": 0, "symbolStrokeWidth": 0, "symbolType": "circle", "labelOffset": -51, "rowPadding": 12, "padding": 0}}}},
{"data": {"name": "a_lg"}, "mark": {"type": "circle", "size": 1200, "opacity": 1}, "encoding": {"x": {"field": "d", "type": "quantitative", "axis": null}, "y": {"field": "v", "type": "quantitative", "axis": null}, "color": {"datum": "AHTS 1996-2018", "type": "nominal"}}},
{"data": {"name": "a_lgs"}, "mark": {"type": "circle", "size": 480, "opacity": 1}, "encoding": {"x": {"field": "d", "type": "quantitative", "axis": null}, "y": {"field": "v", "type": "quantitative", "axis": null}, "color": {"datum": "AHTS 1996-2018", "type": "nominal"}}},
{"data": {"name": "a_dg"}, "mark": {"type": "line", "strokeWidth": 36, "strokeCap": "round", "strokeJoin": "round"}, "encoding": {"x": {"field": "d", "type": "quantitative", "axis": null}, "y": {"field": "v", "type": "quantitative", "axis": null}, "detail": {"field": "t", "type": "nominal"}, "color": {"datum": "Vortex edge 1996-2018", "type": "nominal"}}},
{"data": {"name": "a_dg"}, "mark": {"type": "circle", "size": 1400, "opacity": 1}, "encoding": {"x": {"field": "d", "type": "quantitative", "axis": null}, "y": {"field": "v", "type": "quantitative", "axis": null}, "color": {"datum": "Vortex edge 1996-2018", "type": "nominal"}}},
{"data": {"name": "a_dgs"}, "mark": {"type": "circle", "size": 480, "opacity": 1}, "encoding": {"x": {"field": "d", "type": "quantitative", "axis": null}, "y": {"field": "v", "type": "quantitative", "axis": null}, "color": {"datum": "Vortex edge 1996-2018", "type": "nominal"}}},
{"data": {"name": "a_red"}, "mark": {"type": "circle", "size": 480, "opacity": 1}, "encoding": {"x": {"field": "d", "type": "quantitative", "axis": null}, "y": {"field": "v", "type": "quantitative", "axis": null}, "color": {"datum": "AHTS 2019", "type": "nominal"}}},
{"data": {"name": "a_dbl"}, "mark": {"type": "circle", "size": 480, "opacity": 1}, "encoding": {"x": {"field": "d", "type": "quantitative", "axis": null}, "y": {"field": "v", "type": "quantitative", "axis": null}, "color": {"datum": "AHTS 2002", "type": "nominal"}}},
{"data": {"name": "a_mag"}, "mark": {"type": "line", "strokeWidth": 20, "strokeCap": "round", "strokeJoin": "round"}, "encoding": {"x": {"field": "d", "type": "quantitative", "axis": null}, "y": {"field": "v", "type": "quantitative", "axis": null}, "detail": {"field": "g", "type": "nominal"}, "color": {"datum": "Vortex edge 2019", "type": "nominal"}}},
{"data": {"name": "a_mag"}, "mark": {"type": "circle", "size": 420, "opacity": 1}, "encoding": {"x": {"field": "d", "type": "quantitative", "axis": null}, "y": {"field": "v", "type": "quantitative", "axis": null}, "color": {"datum": "Vortex edge 2019", "type": "nominal"}}},
{"data": {"name": "a_blu"}, "mark": {"type": "line", "strokeWidth": 20, "strokeCap": "round", "strokeJoin": "round"}, "encoding": {"x": {"field": "d", "type": "quantitative", "axis": null}, "y": {"field": "v", "type": "quantitative", "axis": null}, "detail": {"field": "g", "type": "nominal"}, "color": {"datum": "Vortex edge 2002", "type": "nominal"}}},
{"data": {"name": "a_blu"}, "mark": {"type": "circle", "size": 420, "opacity": 1}, "encoding": {"x": {"field": "d", "type": "quantitative", "axis": null}, "y": {"field": "v", "type": "quantitative", "axis": null}, "color": {"datum": "Vortex edge 2002", "type": "nominal"}}},
{"data": {"name": "rules"}, "mark": {"type": "rule", "color": "#d8232f", "strokeWidth": 7, "strokeDash": [30, 29]},
 "encoding": {"x": {"field": "d", "type": "quantitative", "axis": null}}},
{"data": {"values": [{}]}, "mark": {"type": "text", "fontSize": 53, "align": "left", "baseline": "alphabetic", "color": "#000"},
 "encoding": {
  "text": {"value": "(a)"},
  "x": {"datum": 329.3, "type": "quantitative",
   "axis": {"orient": "bottom", "values": [0,7.75,15.5,23.25,31,38,45,52,59,66.75,74.5,82.25,90,97.5,105,112.5,120,127.75,135.5,143.25,151,158.5,166,173.5,181,188.75,196.5,204.25,212,219.75,227.5,235.25,243,250.5,258,265.5,273,280.75,288.5,296.25,304,311.5,319,326.5,334,341.75,349.5,357.25,365],
    "tickSize": {"condition": {"test": "indexof([0,31,59,90,120,151,181,212,243,273,304,334,365], datum.value) >= 0", "value": -22}, "value": -11},
    "labelExpr": "indexof([0,31,59,90,120,151,181,212,243,273,304,334,365], datum.value) >= 0 ? ['1ˢᵗ', ['Jan','Feb','Mar','Apr','May','Jun','Jul','Aug','Sep','Oct','Nov','Dec','Jan'][indexof([0,31,59,90,120,151,181,212,243,273,304,334,365], datum.value)]] : ''",
    "labelPadding": 50, "labelFontSize": 52, "labelLineHeight": 54, "labelBaseline": "top", "labelFlush": false, "labelOverlap": false, "labelColor": "#000",
    "title": null, "grid": false, "domain": false, "tickWidth": 4, "tickColor": "#000"}},
  "y": {"datum": -5.48, "type": "quantitative",
   "axis": {"orient": "left", "values": [0,-0.1,-0.2,-0.3,-0.4,-0.5,-0.6,-0.7,-0.8,-0.9,-1,-1.1,-1.2,-1.3,-1.4,-1.5,-1.6,-1.7,-1.8,-1.9,-2,-2.1,-2.2,-2.3,-2.4,-2.5,-2.6,-2.7,-2.8,-2.9,-3,-3.1,-3.2,-3.3,-3.4,-3.5,-3.6,-3.7,-3.8,-3.9,-4,-4.1,-4.2,-4.3,-4.4,-4.5,-4.6,-4.7,-4.8,-4.9,-5,-5.1,-5.2,-5.3,-5.4,-5.5,-5.6,-5.7,-5.8,-5.9,-6],
    "tickSize": {"condition": {"test": "abs(datum.value - round(datum.value)) < 0.001", "value": -70}, "value": -34},
    "labelExpr": "abs(datum.value - round(datum.value)) < 0.001 ? (round(datum.value) == 0 ? '0' : '-' + abs(round(datum.value))) : ''",
    "labelPadding": 89, "labelFontSize": 56, "labelFlush": true, "labelOverlap": false, "labelColor": "#000",
    "title": "MPV 10⁻⁵[K m² kg⁻¹ s⁻¹]", "titleFontSize": 52, "titleFontWeight": "normal", "titleColor": "#000", "titlePadding": 46, "titleLimit": 3000,
    "grid": false, "domain": false, "tickWidth": 4, "tickColor": "#000"}}
 }},
{"data": {"values": [{}]}, "mark": {"type": "point", "opacity": 0},
 "encoding": {
  "x": {"datum": 0, "type": "quantitative",
   "axis": {"orient": "top", "values": [0,7.75,15.5,23.25,31,38,45,52,59,66.75,74.5,82.25,90,97.5,105,112.5,120,127.75,135.5,143.25,151,158.5,166,173.5,181,188.75,196.5,204.25,212,219.75,227.5,235.25,243,250.5,258,265.5,273,280.75,288.5,296.25,304,311.5,319,326.5,334,341.75,349.5,357.25,365],
    "tickSize": {"condition": {"test": "indexof([0,31,59,90,120,151,181,212,243,273,304,334,365], datum.value) >= 0", "value": -22}, "value": -11},
    "labels": false, "title": null, "grid": false, "domain": false, "tickWidth": 4, "tickColor": "#000"}},
  "y": {"datum": 0, "type": "quantitative",
   "axis": {"orient": "right", "values": [0,-0.1,-0.2,-0.3,-0.4,-0.5,-0.6,-0.7,-0.8,-0.9,-1,-1.1,-1.2,-1.3,-1.4,-1.5,-1.6,-1.7,-1.8,-1.9,-2,-2.1,-2.2,-2.3,-2.4,-2.5,-2.6,-2.7,-2.8,-2.9,-3,-3.1,-3.2,-3.3,-3.4,-3.5,-3.6,-3.7,-3.8,-3.9,-4,-4.1,-4.2,-4.3,-4.4,-4.5,-4.6,-4.7,-4.8,-4.9,-5,-5.1,-5.2,-5.3,-5.4,-5.5,-5.6,-5.7,-5.8,-5.9,-6],
    "tickSize": {"condition": {"test": "abs(datum.value - round(datum.value)) < 0.001", "value": -70}, "value": -34},
    "labels": false, "title": null, "grid": false, "domain": false, "tickWidth": 4, "tickColor": "#000"}}
 }}
]
},
{
"width": 3575, "height": 1140,
"resolve": {"axis": {"x": "independent", "y": "independent"}},
"layer": [
{"data": {"name": "b_lg"}, "mark": {"type": "line", "strokeWidth": 34, "strokeCap": "round", "strokeJoin": "round"},
 "encoding": {"x": {"field": "d", "type": "quantitative", "scale": {"domain": [0, 365], "nice": false, "zero": false}, "axis": null}, "y": {"field": "v", "type": "quantitative", "scale": {"domain": [-6, 0], "nice": false, "zero": false}, "axis": null}, "detail": {"field": "t", "type": "nominal"},
  "color": {"datum": "AHTS 1996-2018", "type": "nominal",
   "scale": {"domain": ["Vortex edge 1996-2018", "AHTS 1996-2018", "Vortex edge 2019", "AHTS 2019", "Vortex edge 2002", "AHTS 2002"], "range": ["#4a4745", "#b8b3b0", "#c8408e", "#e4152b", "#3b7fc1", "#223a8e"]},
   "legend": {"orient": "none", "legendX": 104, "legendY": 611, "title": "θ = 460 K", "titleFontSize": 53, "titleFontWeight": "normal", "titleColor": "#000", "titlePadding": 9, "titleLimit": 3000, "labelFontSize": 53, "labelLimit": 3000, "labelColor": {"expr": "({'Vortex edge 1996-2018':'#4a4745','AHTS 1996-2018':'#b8b3b0','Vortex edge 2019':'#c8408e','AHTS 2019':'#e4152b','Vortex edge 2002':'#3b7fc1','AHTS 2002':'#223a8e'})[datum.value]"}, "symbolOpacity": 0, "symbolSize": 0, "symbolStrokeWidth": 0, "symbolType": "circle", "labelOffset": -51, "rowPadding": 12, "padding": 0}}}},
{"data": {"name": "b_lg"}, "mark": {"type": "circle", "size": 1200, "opacity": 1}, "encoding": {"x": {"field": "d", "type": "quantitative", "axis": null}, "y": {"field": "v", "type": "quantitative", "axis": null}, "color": {"datum": "AHTS 1996-2018", "type": "nominal"}}},
{"data": {"name": "b_lgs"}, "mark": {"type": "circle", "size": 480, "opacity": 1}, "encoding": {"x": {"field": "d", "type": "quantitative", "axis": null}, "y": {"field": "v", "type": "quantitative", "axis": null}, "color": {"datum": "AHTS 1996-2018", "type": "nominal"}}},
{"data": {"name": "b_dg"}, "mark": {"type": "line", "strokeWidth": 36, "strokeCap": "round", "strokeJoin": "round"}, "encoding": {"x": {"field": "d", "type": "quantitative", "axis": null}, "y": {"field": "v", "type": "quantitative", "axis": null}, "detail": {"field": "t", "type": "nominal"}, "color": {"datum": "Vortex edge 1996-2018", "type": "nominal"}}},
{"data": {"name": "b_dg"}, "mark": {"type": "circle", "size": 1400, "opacity": 1}, "encoding": {"x": {"field": "d", "type": "quantitative", "axis": null}, "y": {"field": "v", "type": "quantitative", "axis": null}, "color": {"datum": "Vortex edge 1996-2018", "type": "nominal"}}},
{"data": {"name": "b_dgs"}, "mark": {"type": "circle", "size": 480, "opacity": 1}, "encoding": {"x": {"field": "d", "type": "quantitative", "axis": null}, "y": {"field": "v", "type": "quantitative", "axis": null}, "color": {"datum": "Vortex edge 1996-2018", "type": "nominal"}}},
{"data": {"name": "b_red"}, "mark": {"type": "circle", "size": 480, "opacity": 1}, "encoding": {"x": {"field": "d", "type": "quantitative", "axis": null}, "y": {"field": "v", "type": "quantitative", "axis": null}, "color": {"datum": "AHTS 2019", "type": "nominal"}}},
{"data": {"name": "b_dbl"}, "mark": {"type": "circle", "size": 480, "opacity": 1}, "encoding": {"x": {"field": "d", "type": "quantitative", "axis": null}, "y": {"field": "v", "type": "quantitative", "axis": null}, "color": {"datum": "AHTS 2002", "type": "nominal"}}},
{"data": {"name": "b_mag"}, "mark": {"type": "line", "strokeWidth": 20, "strokeCap": "round", "strokeJoin": "round"}, "encoding": {"x": {"field": "d", "type": "quantitative", "axis": null}, "y": {"field": "v", "type": "quantitative", "axis": null}, "detail": {"field": "g", "type": "nominal"}, "color": {"datum": "Vortex edge 2019", "type": "nominal"}}},
{"data": {"name": "b_mag"}, "mark": {"type": "circle", "size": 420, "opacity": 1}, "encoding": {"x": {"field": "d", "type": "quantitative", "axis": null}, "y": {"field": "v", "type": "quantitative", "axis": null}, "color": {"datum": "Vortex edge 2019", "type": "nominal"}}},
{"data": {"name": "b_blu"}, "mark": {"type": "line", "strokeWidth": 20, "strokeCap": "round", "strokeJoin": "round"}, "encoding": {"x": {"field": "d", "type": "quantitative", "axis": null}, "y": {"field": "v", "type": "quantitative", "axis": null}, "detail": {"field": "g", "type": "nominal"}, "color": {"datum": "Vortex edge 2002", "type": "nominal"}}},
{"data": {"name": "b_blu"}, "mark": {"type": "circle", "size": 420, "opacity": 1}, "encoding": {"x": {"field": "d", "type": "quantitative", "axis": null}, "y": {"field": "v", "type": "quantitative", "axis": null}, "color": {"datum": "Vortex edge 2002", "type": "nominal"}}},
{"data": {"name": "rules"}, "mark": {"type": "rule", "color": "#d8232f", "strokeWidth": 7, "strokeDash": [30, 29]},
 "encoding": {"x": {"field": "d", "type": "quantitative", "axis": null}}},
{"data": {"values": [{}]}, "mark": {"type": "text", "fontSize": 53, "align": "left", "baseline": "alphabetic", "color": "#000"},
 "encoding": {
  "text": {"value": "(b)"},
  "x": {"datum": 329.3, "type": "quantitative",
   "axis": {"orient": "bottom", "values": [0,7.75,15.5,23.25,31,38,45,52,59,66.75,74.5,82.25,90,97.5,105,112.5,120,127.75,135.5,143.25,151,158.5,166,173.5,181,188.75,196.5,204.25,212,219.75,227.5,235.25,243,250.5,258,265.5,273,280.75,288.5,296.25,304,311.5,319,326.5,334,341.75,349.5,357.25,365],
    "tickSize": {"condition": {"test": "indexof([0,31,59,90,120,151,181,212,243,273,304,334,365], datum.value) >= 0", "value": -22}, "value": -11},
    "labelExpr": "indexof([0,31,59,90,120,151,181,212,243,273,304,334,365], datum.value) >= 0 ? ['1ˢᵗ', ['Jan','Feb','Mar','Apr','May','Jun','Jul','Aug','Sep','Oct','Nov','Dec','Jan'][indexof([0,31,59,90,120,151,181,212,243,273,304,334,365], datum.value)]] : ''",
    "labelPadding": 50, "labelFontSize": 52, "labelLineHeight": 54, "labelBaseline": "top", "labelFlush": false, "labelOverlap": false, "labelColor": "#000",
    "title": null, "grid": false, "domain": false, "tickWidth": 4, "tickColor": "#000"}},
  "y": {"datum": -5.51, "type": "quantitative",
   "axis": {"orient": "left", "values": [0,-0.1,-0.2,-0.3,-0.4,-0.5,-0.6,-0.7,-0.8,-0.9,-1,-1.1,-1.2,-1.3,-1.4,-1.5,-1.6,-1.7,-1.8,-1.9,-2,-2.1,-2.2,-2.3,-2.4,-2.5,-2.6,-2.7,-2.8,-2.9,-3,-3.1,-3.2,-3.3,-3.4,-3.5,-3.6,-3.7,-3.8,-3.9,-4,-4.1,-4.2,-4.3,-4.4,-4.5,-4.6,-4.7,-4.8,-4.9,-5,-5.1,-5.2,-5.3,-5.4,-5.5,-5.6,-5.7,-5.8,-5.9,-6],
    "tickSize": {"condition": {"test": "abs(datum.value - round(datum.value)) < 0.001", "value": -70}, "value": -34},
    "labelExpr": "abs(datum.value - round(datum.value)) < 0.001 ? (round(datum.value) == 0 ? '0' : '-' + abs(round(datum.value))) : ''",
    "labelPadding": 89, "labelFontSize": 56, "labelFlush": true, "labelOverlap": false, "labelColor": "#000",
    "title": "MPV 10⁻⁵[K m² kg⁻¹ s⁻¹]", "titleFontSize": 52, "titleFontWeight": "normal", "titleColor": "#000", "titlePadding": 46, "titleLimit": 3000,
    "grid": false, "domain": false, "tickWidth": 4, "tickColor": "#000"}}
 }},
{"data": {"values": [{}]}, "mark": {"type": "point", "opacity": 0},
 "encoding": {
  "x": {"datum": 0, "type": "quantitative",
   "axis": {"orient": "top", "values": [0,7.75,15.5,23.25,31,38,45,52,59,66.75,74.5,82.25,90,97.5,105,112.5,120,127.75,135.5,143.25,151,158.5,166,173.5,181,188.75,196.5,204.25,212,219.75,227.5,235.25,243,250.5,258,265.5,273,280.75,288.5,296.25,304,311.5,319,326.5,334,341.75,349.5,357.25,365],
    "tickSize": {"condition": {"test": "indexof([0,31,59,90,120,151,181,212,243,273,304,334,365], datum.value) >= 0", "value": -22}, "value": -11},
    "labels": false, "title": null, "grid": false, "domain": false, "tickWidth": 4, "tickColor": "#000"}},
  "y": {"datum": 0, "type": "quantitative",
   "axis": {"orient": "right", "values": [0,-0.1,-0.2,-0.3,-0.4,-0.5,-0.6,-0.7,-0.8,-0.9,-1,-1.1,-1.2,-1.3,-1.4,-1.5,-1.6,-1.7,-1.8,-1.9,-2,-2.1,-2.2,-2.3,-2.4,-2.5,-2.6,-2.7,-2.8,-2.9,-3,-3.1,-3.2,-3.3,-3.4,-3.5,-3.6,-3.7,-3.8,-3.9,-4,-4.1,-4.2,-4.3,-4.4,-4.5,-4.6,-4.7,-4.8,-4.9,-5,-5.1,-5.2,-5.3,-5.4,-5.5,-5.6,-5.7,-5.8,-5.9,-6],
    "tickSize": {"condition": {"test": "abs(datum.value - round(datum.value)) < 0.001", "value": -70}, "value": -34},
    "labels": false, "title": null, "grid": false, "domain": false, "tickWidth": 4, "tickColor": "#000"}}
 }}
]
}
]
}
